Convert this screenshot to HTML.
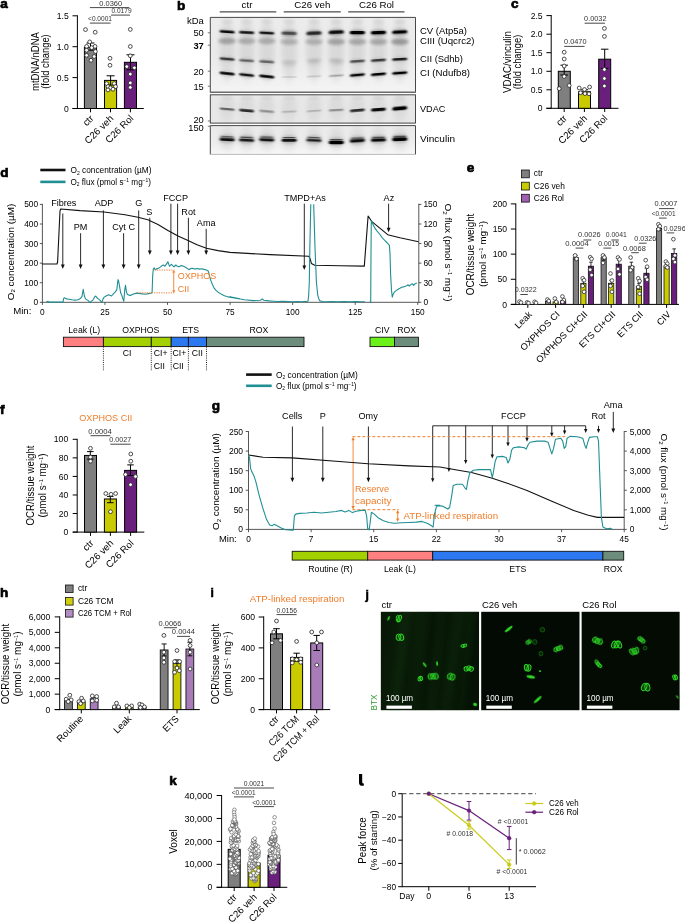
<!DOCTYPE html>
<html><head><meta charset="utf-8"><title>Figure</title>
<style>
html,body{margin:0;padding:0;background:#fff;overflow:hidden;}
svg{display:block;font-family:"Liberation Sans",sans-serif;will-change:transform;}
</style></head><body>
<svg width="685" height="922" viewBox="0 0 685 922">
<defs>
<filter id="bl1" x="-20%" y="-100%" width="140%" height="300%"><feGaussianBlur stdDeviation="1.1 0.6"/></filter>
<filter id="bl2" x="-20%" y="-100%" width="140%" height="300%"><feGaussianBlur stdDeviation="1.8 1.6"/></filter>
<filter id="bl3" x="-20%" y="-100%" width="140%" height="300%"><feGaussianBlur stdDeviation="2.5 4"/></filter>
<linearGradient id="bg1" x1="0" y1="0" x2="0" y2="1"><stop offset="0" stop-color="#ececec"/><stop offset="0.5" stop-color="#e9e9e9"/><stop offset="1" stop-color="#f4f4f4"/></linearGradient>
<clipPath id="cb1"><rect x="210.3" y="17.4" width="205.2" height="74.8"/></clipPath>
<clipPath id="cb2"><rect x="210.3" y="94.8" width="205.2" height="28.8"/></clipPath>
<clipPath id="cb3"><rect x="210.3" y="125.6" width="205.2" height="28.8"/></clipPath>
<linearGradient id="bg3" x1="0" y1="0" x2="0" y2="1"><stop offset="0" stop-color="#eaeaea"/><stop offset="0.6" stop-color="#ededed"/><stop offset="1" stop-color="#f7f7f7"/></linearGradient>
<filter id="gb" x="-30%" y="-30%" width="160%" height="160%"><feGaussianBlur stdDeviation="0.55"/></filter>
<filter id="gb2" x="-30%" y="-30%" width="160%" height="160%"><feGaussianBlur stdDeviation="3"/></filter>
<linearGradient id="jg1" x1="0" y1="0" x2="1" y2="0.2"><stop offset="0" stop-color="#071606"/><stop offset="0.3" stop-color="#0a1d08"/><stop offset="0.55" stop-color="#061405"/><stop offset="0.8" stop-color="#091b07"/><stop offset="1" stop-color="#051204"/></linearGradient>
<clipPath id="jc0"><rect x="380.6" y="611.6" width="98.6" height="98.8"/></clipPath>
<clipPath id="jc1"><rect x="481.1" y="611.6" width="98.6" height="98.8"/></clipPath>
<clipPath id="jc2"><rect x="581.4" y="611.6" width="98.4" height="98.8"/></clipPath>
</defs>
<rect x="0" y="0" width="685" height="922" fill="#fff"/>
<text x="0.2" y="7.7" font-size="13.6" font-weight="bold" fill="#000" stroke="#000" stroke-width="0.7" stroke-linejoin="round">a</text>
<line x1="77.4" y1="15.3" x2="77.4" y2="109" stroke="#000" stroke-width="1"/>
<line x1="72.5" y1="108.5" x2="143.8" y2="108.5" stroke="#000" stroke-width="1"/>
<line x1="72.5" y1="15.8" x2="77.4" y2="15.8" stroke="#000" stroke-width="1"/>
<text x="68.7" y="18.900000000000002" font-size="8.6" text-anchor="end">1.5</text>
<line x1="72.5" y1="46.7" x2="77.4" y2="46.7" stroke="#000" stroke-width="1"/>
<text x="68.7" y="49.800000000000004" font-size="8.6" text-anchor="end">1.0</text>
<line x1="72.5" y1="77.6" x2="77.4" y2="77.6" stroke="#000" stroke-width="1"/>
<text x="68.7" y="80.69999999999999" font-size="8.6" text-anchor="end">0.5</text>
<line x1="72.5" y1="108.5" x2="77.4" y2="108.5" stroke="#000" stroke-width="1"/>
<text x="68.7" y="111.6" font-size="8.6" text-anchor="end">0</text>
<line x1="90.5" y1="108.5" x2="90.5" y2="112.3" stroke="#000" stroke-width="1"/>
<line x1="110.5" y1="108.5" x2="110.5" y2="112.3" stroke="#000" stroke-width="1"/>
<line x1="130.4" y1="108.5" x2="130.4" y2="112.3" stroke="#000" stroke-width="1"/>
<rect x="84.4" y="47.3" width="12.1" height="61.2" fill="#7f7f7f" stroke="#000" stroke-width="1"/>
<rect x="104.5" y="80.4" width="12.1" height="28.1" fill="#caca00" stroke="#000" stroke-width="1"/>
<rect x="124.4" y="62.3" width="12.1" height="46.2" fill="#6a1f7c" stroke="#000" stroke-width="1"/>
<line x1="90.5" y1="43" x2="90.5" y2="50.2" stroke="#000" stroke-width="1"/>
<line x1="86.5" y1="43" x2="94.5" y2="43" stroke="#000" stroke-width="1"/>
<line x1="86.5" y1="50.2" x2="94.5" y2="50.2" stroke="#000" stroke-width="1"/>
<line x1="110.6" y1="75.8" x2="110.6" y2="85" stroke="#000" stroke-width="1"/>
<line x1="106.6" y1="75.8" x2="114.6" y2="75.8" stroke="#000" stroke-width="1"/>
<line x1="106.6" y1="85" x2="114.6" y2="85" stroke="#000" stroke-width="1"/>
<line x1="130.5" y1="54.8" x2="130.5" y2="69.8" stroke="#000" stroke-width="1"/>
<line x1="126.5" y1="54.8" x2="134.5" y2="54.8" stroke="#000" stroke-width="1"/>
<line x1="126.5" y1="69.8" x2="134.5" y2="69.8" stroke="#000" stroke-width="1"/>
<circle cx="85.5" cy="29.6" r="1.9" fill="#fff" stroke="#222" stroke-width="0.8"/>
<circle cx="95.2" cy="32.2" r="1.9" fill="#fff" stroke="#222" stroke-width="0.8"/>
<circle cx="89.7" cy="41.9" r="1.9" fill="#fff" stroke="#222" stroke-width="0.8"/>
<circle cx="86.6" cy="46.4" r="1.9" fill="#fff" stroke="#222" stroke-width="0.8"/>
<circle cx="95.0" cy="46.4" r="1.9" fill="#fff" stroke="#222" stroke-width="0.8"/>
<circle cx="91.7" cy="47.7" r="1.9" fill="#fff" stroke="#222" stroke-width="0.8"/>
<circle cx="86.6" cy="50.2" r="1.9" fill="#fff" stroke="#222" stroke-width="0.8"/>
<circle cx="95.4" cy="51.5" r="1.9" fill="#fff" stroke="#222" stroke-width="0.8"/>
<circle cx="86.6" cy="55.3" r="1.9" fill="#fff" stroke="#222" stroke-width="0.8"/>
<circle cx="94.2" cy="56.5" r="1.9" fill="#fff" stroke="#222" stroke-width="0.8"/>
<circle cx="91.0" cy="60.3" r="1.9" fill="#fff" stroke="#222" stroke-width="0.8"/>
<circle cx="110.0" cy="58.3" r="1.9" fill="#fff" stroke="#222" stroke-width="0.8"/>
<circle cx="110.0" cy="65.3" r="1.9" fill="#fff" stroke="#222" stroke-width="0.8"/>
<circle cx="106.7" cy="83.6" r="1.9" fill="#fff" stroke="#222" stroke-width="0.8"/>
<circle cx="114.3" cy="83.6" r="1.9" fill="#fff" stroke="#222" stroke-width="0.8"/>
<circle cx="108.0" cy="86.6" r="1.9" fill="#fff" stroke="#222" stroke-width="0.8"/>
<circle cx="115.5" cy="86.6" r="1.9" fill="#fff" stroke="#222" stroke-width="0.8"/>
<circle cx="110.5" cy="87.9" r="1.9" fill="#fff" stroke="#222" stroke-width="0.8"/>
<circle cx="113.0" cy="89.2" r="1.9" fill="#fff" stroke="#222" stroke-width="0.8"/>
<circle cx="108.0" cy="89.9" r="1.9" fill="#fff" stroke="#222" stroke-width="0.8"/>
<circle cx="130.3" cy="29.4" r="1.9" fill="#fff" stroke="#222" stroke-width="0.8"/>
<circle cx="130.3" cy="46.5" r="1.9" fill="#fff" stroke="#222" stroke-width="0.8"/>
<circle cx="130.3" cy="55.8" r="1.9" fill="#fff" stroke="#222" stroke-width="0.8"/>
<circle cx="126.8" cy="66.6" r="1.9" fill="#fff" stroke="#222" stroke-width="0.8"/>
<circle cx="134.4" cy="67.8" r="1.9" fill="#fff" stroke="#222" stroke-width="0.8"/>
<circle cx="130.3" cy="74.1" r="1.9" fill="#fff" stroke="#222" stroke-width="0.8"/>
<circle cx="130.3" cy="82.9" r="1.9" fill="#fff" stroke="#222" stroke-width="0.8"/>
<circle cx="130.3" cy="87.4" r="1.9" fill="#fff" stroke="#222" stroke-width="0.8"/>
<line x1="89.9" y1="7.6" x2="129.3" y2="7.6" stroke="#333" stroke-width="0.9"/>
<text x="110.7" y="5.6" font-size="6.6" text-anchor="middle" textLength="22.8" lengthAdjust="spacingAndGlyphs" fill="#333">0.0360</text>
<line x1="111" y1="15.1" x2="130" y2="15.1" stroke="#333" stroke-width="0.9"/>
<text x="121.5" y="13.1" font-size="6.6" text-anchor="middle" textLength="20.1" lengthAdjust="spacingAndGlyphs" fill="#333">0.0179</text>
<line x1="89.9" y1="23.1" x2="110.5" y2="23.1" stroke="#333" stroke-width="0.9"/>
<text x="100" y="21.1" font-size="6.6" text-anchor="middle" textLength="23.9" lengthAdjust="spacingAndGlyphs" fill="#333">&lt;0.0001</text>
<text x="38.8" y="61.5" font-size="10.3" text-anchor="middle" transform="rotate(-90 38.8 61.5)" textLength="59" lengthAdjust="spacingAndGlyphs">mtDNA/nDNA</text>
<text x="49.2" y="61.5" font-size="10.3" text-anchor="middle" transform="rotate(-90 49.2 61.5)" textLength="54.5" lengthAdjust="spacingAndGlyphs">(fold change)</text>
<text x="94.3" y="119" font-size="9.7" text-anchor="end" transform="rotate(-45 94.3 119)">ctr</text>
<text x="114.1" y="119" font-size="9.7" text-anchor="end" transform="rotate(-45 114.1 119)">C26 veh</text>
<text x="134.0" y="119" font-size="9.7" text-anchor="end" transform="rotate(-45 134.0 119)">C26 Rol</text>
<text x="511" y="8.1" font-size="13.6" font-weight="bold" fill="#000" stroke="#000" stroke-width="0.7" stroke-linejoin="round">c</text>
<line x1="551.2" y1="15" x2="551.2" y2="109" stroke="#000" stroke-width="1"/>
<line x1="546.4000000000001" y1="108.3" x2="618.5" y2="108.3" stroke="#000" stroke-width="1"/>
<line x1="546.4000000000001" y1="15.6" x2="551.2" y2="15.6" stroke="#000" stroke-width="1"/>
<text x="542.6" y="18.7" font-size="8.6" text-anchor="end">2.5</text>
<line x1="546.4000000000001" y1="34.2" x2="551.2" y2="34.2" stroke="#000" stroke-width="1"/>
<text x="542.6" y="37.300000000000004" font-size="8.6" text-anchor="end">2.0</text>
<line x1="546.4000000000001" y1="52.7" x2="551.2" y2="52.7" stroke="#000" stroke-width="1"/>
<text x="542.6" y="55.800000000000004" font-size="8.6" text-anchor="end">1.5</text>
<line x1="546.4000000000001" y1="71.3" x2="551.2" y2="71.3" stroke="#000" stroke-width="1"/>
<text x="542.6" y="74.39999999999999" font-size="8.6" text-anchor="end">1.0</text>
<line x1="546.4000000000001" y1="89.8" x2="551.2" y2="89.8" stroke="#000" stroke-width="1"/>
<text x="542.6" y="92.89999999999999" font-size="8.6" text-anchor="end">0.5</text>
<line x1="546.4000000000001" y1="108.3" x2="551.2" y2="108.3" stroke="#000" stroke-width="1"/>
<text x="542.6" y="111.39999999999999" font-size="8.6" text-anchor="end">0</text>
<line x1="564.2" y1="108.3" x2="564.2" y2="112" stroke="#000" stroke-width="1"/>
<line x1="584.4" y1="108.3" x2="584.4" y2="112" stroke="#000" stroke-width="1"/>
<line x1="604.7" y1="108.3" x2="604.7" y2="112" stroke="#000" stroke-width="1"/>
<rect x="558.3" y="71.3" width="12" height="37" fill="#7f7f7f" stroke="#000" stroke-width="1"/>
<rect x="578.5" y="91.8" width="12" height="16.5" fill="#caca00" stroke="#000" stroke-width="1"/>
<rect x="598.7" y="59.2" width="12" height="49.1" fill="#6a1f7c" stroke="#000" stroke-width="1"/>
<line x1="564.2" y1="65.2" x2="564.2" y2="75" stroke="#000" stroke-width="1"/>
<line x1="560.45" y1="65.2" x2="567.95" y2="65.2" stroke="#000" stroke-width="1"/>
<line x1="560.45" y1="75" x2="567.95" y2="75" stroke="#000" stroke-width="1"/>
<line x1="584.5" y1="89.8" x2="584.5" y2="93.5" stroke="#000" stroke-width="1"/>
<line x1="580.75" y1="89.8" x2="588.25" y2="89.8" stroke="#000" stroke-width="1"/>
<line x1="580.75" y1="93.5" x2="588.25" y2="93.5" stroke="#000" stroke-width="1"/>
<line x1="604.7" y1="49.2" x2="604.7" y2="68.4" stroke="#000" stroke-width="1"/>
<line x1="600.95" y1="49.2" x2="608.45" y2="49.2" stroke="#000" stroke-width="1"/>
<line x1="600.95" y1="68.4" x2="608.45" y2="68.4" stroke="#000" stroke-width="1"/>
<circle cx="564.2" cy="52.2" r="1.9" fill="#fff" stroke="#222" stroke-width="0.8"/>
<circle cx="564.2" cy="59.0" r="1.9" fill="#fff" stroke="#222" stroke-width="0.8"/>
<circle cx="564.2" cy="66.0" r="1.9" fill="#fff" stroke="#222" stroke-width="0.8"/>
<circle cx="564.2" cy="76.5" r="1.9" fill="#fff" stroke="#222" stroke-width="0.8"/>
<circle cx="559.2" cy="88.6" r="1.9" fill="#fff" stroke="#222" stroke-width="0.8"/>
<circle cx="569.2" cy="85.5" r="1.9" fill="#fff" stroke="#222" stroke-width="0.8"/>
<circle cx="579.2" cy="88.0" r="1.9" fill="#fff" stroke="#222" stroke-width="0.8"/>
<circle cx="584.5" cy="89.5" r="1.9" fill="#fff" stroke="#222" stroke-width="0.8"/>
<circle cx="589.6" cy="87.0" r="1.9" fill="#fff" stroke="#222" stroke-width="0.8"/>
<circle cx="580.5" cy="92.8" r="1.9" fill="#fff" stroke="#222" stroke-width="0.8"/>
<circle cx="585.0" cy="93.6" r="1.9" fill="#fff" stroke="#222" stroke-width="0.8"/>
<circle cx="589.0" cy="93.8" r="1.9" fill="#fff" stroke="#222" stroke-width="0.8"/>
<circle cx="604.4" cy="28.4" r="1.9" fill="#fff" stroke="#222" stroke-width="0.8"/>
<circle cx="604.4" cy="36.4" r="1.9" fill="#fff" stroke="#222" stroke-width="0.8"/>
<circle cx="604.4" cy="69.5" r="1.9" fill="#fff" stroke="#222" stroke-width="0.8"/>
<circle cx="604.4" cy="78.5" r="1.9" fill="#fff" stroke="#222" stroke-width="0.8"/>
<circle cx="604.4" cy="86.0" r="1.9" fill="#fff" stroke="#222" stroke-width="0.8"/>
<line x1="564.2" y1="46.4" x2="584.6" y2="46.4" stroke="#333" stroke-width="0.9"/>
<text x="575.3" y="44.4" font-size="6.6" text-anchor="middle" textLength="22.5" lengthAdjust="spacingAndGlyphs" fill="#333">0.0470</text>
<line x1="584.6" y1="23.2" x2="605" y2="23.2" stroke="#333" stroke-width="0.9"/>
<text x="595.3" y="21.2" font-size="6.6" text-anchor="middle" textLength="22.4" lengthAdjust="spacingAndGlyphs" fill="#333">0.0032</text>
<text x="510.8" y="62" font-size="10.3" text-anchor="middle" transform="rotate(-90 510.8 62)" textLength="62" lengthAdjust="spacingAndGlyphs">VDAC/vinculin</text>
<text x="520.8" y="62" font-size="10.3" text-anchor="middle" transform="rotate(-90 520.8 62)" textLength="54.5" lengthAdjust="spacingAndGlyphs">(fold change)</text>
<text x="567.5999999999999" y="119" font-size="9.7" text-anchor="end" transform="rotate(-45 567.5999999999999 119)">ctr</text>
<text x="587.8" y="119" font-size="9.7" text-anchor="end" transform="rotate(-45 587.8 119)">C26 veh</text>
<text x="608.0999999999999" y="119" font-size="9.7" text-anchor="end" transform="rotate(-45 608.0999999999999 119)">C26 Rol</text>
<text x="177" y="10.2" font-size="13.6" font-weight="bold" fill="#000" stroke="#000" stroke-width="0.7" stroke-linejoin="round">b</text>
<line x1="219.7" y1="11.9" x2="276.3" y2="11.9" stroke="#222" stroke-width="1"/>
<text x="247" y="8.2" font-size="9.7" text-anchor="middle">ctr</text>
<line x1="283.7" y1="11.9" x2="340.8" y2="11.9" stroke="#222" stroke-width="1"/>
<text x="312.3" y="8.2" font-size="9.7" text-anchor="middle">C26 veh</text>
<line x1="348.2" y1="11.9" x2="404.5" y2="11.9" stroke="#222" stroke-width="1"/>
<text x="376.5" y="8.2" font-size="9.7" text-anchor="middle">C26 Rol</text>
<text x="203.8" y="23.8" font-size="9.5" text-anchor="end">kDa</text>
<text x="203.8" y="36.099999999999994" font-size="9.3" text-anchor="end">50</text>
<line x1="207.8" y1="32.8" x2="210" y2="32.8" stroke="#555" stroke-width="0.8"/>
<text x="203.8" y="48.5" font-size="9.3" text-anchor="end" font-weight="bold">37</text>
<line x1="207.8" y1="45.2" x2="210" y2="45.2" stroke="#555" stroke-width="0.8"/>
<text x="203.8" y="74.5" font-size="9.3" text-anchor="end">20</text>
<line x1="207.8" y1="71.2" x2="210" y2="71.2" stroke="#555" stroke-width="0.8"/>
<text x="203.8" y="89.5" font-size="9.3" text-anchor="end">15</text>
<line x1="207.8" y1="86.2" x2="210" y2="86.2" stroke="#555" stroke-width="0.8"/>
<text x="203.8" y="123.4" font-size="9.3" text-anchor="end">20</text>
<line x1="207.8" y1="121" x2="210" y2="121" stroke="#555" stroke-width="0.8"/>
<text x="203.8" y="130.6" font-size="9.3" text-anchor="end">150</text>
<line x1="207.8" y1="126.2" x2="210" y2="126.2" stroke="#555" stroke-width="0.8"/>
<text x="420" y="34.4" font-size="9.7" textLength="47" lengthAdjust="spacingAndGlyphs">CV (Atp5a)</text>
<text x="420" y="43.5" font-size="9.7" textLength="54.5" lengthAdjust="spacingAndGlyphs">CIII (Uqcrc2)</text>
<text x="420" y="62.2" font-size="9.7" textLength="43" lengthAdjust="spacingAndGlyphs">CII (Sdhb)</text>
<text x="420" y="76" font-size="9.7" textLength="50" lengthAdjust="spacingAndGlyphs">CI (Ndufb8)</text>
<text x="420" y="111.9" font-size="9.7" textLength="25.5" lengthAdjust="spacingAndGlyphs">VDAC</text>
<text x="420" y="142.3" font-size="9.7" textLength="35" lengthAdjust="spacingAndGlyphs">Vinculin</text>
<g clip-path="url(#cb1)">
<rect x="210.3" y="17.4" width="205.2" height="74.8" fill="url(#bg1)"/>
<ellipse cx="227.1" cy="50.0" rx="7.5" ry="31.00" fill="#000" opacity="0.07" filter="url(#bl3)" transform="rotate(0 227.1 50)"/>
<ellipse cx="227.1" cy="21.5" rx="6.5" ry="2.00" fill="#000" opacity="0.05" filter="url(#bl2)" transform="rotate(0 227.1 21.5)"/>
<ellipse cx="246.7" cy="50.0" rx="7.5" ry="31.00" fill="#000" opacity="0.07" filter="url(#bl3)" transform="rotate(0 246.7 50)"/>
<ellipse cx="246.7" cy="21.5" rx="6.5" ry="2.00" fill="#000" opacity="0.05" filter="url(#bl2)" transform="rotate(0 246.7 21.5)"/>
<ellipse cx="266.8" cy="50.0" rx="7.5" ry="31.00" fill="#000" opacity="0.07" filter="url(#bl3)" transform="rotate(0 266.8 50)"/>
<ellipse cx="266.8" cy="21.5" rx="6.5" ry="2.00" fill="#000" opacity="0.05" filter="url(#bl2)" transform="rotate(0 266.8 21.5)"/>
<ellipse cx="289.2" cy="50.0" rx="7.5" ry="31.00" fill="#000" opacity="0.07" filter="url(#bl3)" transform="rotate(0 289.2 50)"/>
<ellipse cx="289.2" cy="21.5" rx="6.5" ry="2.00" fill="#000" opacity="0.05" filter="url(#bl2)" transform="rotate(0 289.2 21.5)"/>
<ellipse cx="314.0" cy="50.0" rx="7.5" ry="31.00" fill="#000" opacity="0.07" filter="url(#bl3)" transform="rotate(0 314 50)"/>
<ellipse cx="314.0" cy="21.5" rx="6.5" ry="2.00" fill="#000" opacity="0.05" filter="url(#bl2)" transform="rotate(0 314 21.5)"/>
<ellipse cx="336.3" cy="50.0" rx="7.5" ry="31.00" fill="#000" opacity="0.07" filter="url(#bl3)" transform="rotate(0 336.3 50)"/>
<ellipse cx="336.3" cy="21.5" rx="6.5" ry="2.00" fill="#000" opacity="0.05" filter="url(#bl2)" transform="rotate(0 336.3 21.5)"/>
<ellipse cx="357.4" cy="50.0" rx="7.5" ry="31.00" fill="#000" opacity="0.07" filter="url(#bl3)" transform="rotate(0 357.4 50)"/>
<ellipse cx="357.4" cy="21.5" rx="6.5" ry="2.00" fill="#000" opacity="0.05" filter="url(#bl2)" transform="rotate(0 357.4 21.5)"/>
<ellipse cx="378.5" cy="50.0" rx="7.5" ry="31.00" fill="#000" opacity="0.07" filter="url(#bl3)" transform="rotate(0 378.5 50)"/>
<ellipse cx="378.5" cy="21.5" rx="6.5" ry="2.00" fill="#000" opacity="0.05" filter="url(#bl2)" transform="rotate(0 378.5 21.5)"/>
<ellipse cx="399.8" cy="50.0" rx="7.5" ry="31.00" fill="#000" opacity="0.07" filter="url(#bl3)" transform="rotate(0 399.8 50)"/>
<ellipse cx="399.8" cy="21.5" rx="6.5" ry="2.00" fill="#000" opacity="0.05" filter="url(#bl2)" transform="rotate(0 399.8 21.5)"/>
<rect x="219.8" y="30.61" width="14.7" height="2.38" rx="1.19" fill="#000" opacity="0.95" filter="url(#bl1)" transform="rotate(4 227.1 31.8)"/>
<ellipse cx="227.1" cy="32.0" rx="8.0" ry="2.30" fill="#000" opacity="0.16" filter="url(#bl2)" transform="rotate(4 227.1 32.0)"/>
<rect x="239.3" y="31.31" width="14.7" height="2.38" rx="1.19" fill="#000" opacity="0.9" filter="url(#bl1)" transform="rotate(3 246.7 32.5)"/>
<ellipse cx="246.7" cy="32.7" rx="8.0" ry="2.30" fill="#000" opacity="0.16" filter="url(#bl2)" transform="rotate(3 246.7 32.7)"/>
<rect x="259.4" y="31.81" width="14.7" height="2.38" rx="1.19" fill="#000" opacity="0.88" filter="url(#bl1)" transform="rotate(3 266.8 33)"/>
<ellipse cx="266.8" cy="33.2" rx="8.0" ry="2.30" fill="#000" opacity="0.16" filter="url(#bl2)" transform="rotate(3 266.8 33.2)"/>
<rect x="281.8" y="31.66" width="14.7" height="3.08" rx="1.54" fill="#000" opacity="0.5" filter="url(#bl1)" transform="rotate(2 289.2 33.2)"/>
<ellipse cx="289.2" cy="33.4" rx="8.0" ry="2.30" fill="#000" opacity="0.16" filter="url(#bl2)" transform="rotate(2 289.2 33.400000000000006)"/>
<ellipse cx="289.2" cy="33.5" rx="8.0" ry="3.00" fill="#000" opacity="0.22" filter="url(#bl2)" transform="rotate(0 289.2 33.5)"/>
<rect x="306.6" y="31.59" width="14.7" height="3.22" rx="1.61" fill="#000" opacity="0.72" filter="url(#bl1)" transform="rotate(-3 314 33.2)"/>
<ellipse cx="314.0" cy="33.4" rx="8.0" ry="2.30" fill="#000" opacity="0.16" filter="url(#bl2)" transform="rotate(-3 314 33.400000000000006)"/>
<ellipse cx="314.0" cy="33.5" rx="8.0" ry="3.00" fill="#000" opacity="0.22" filter="url(#bl2)" transform="rotate(0 314 33.5)"/>
<rect x="328.9" y="30.59" width="14.7" height="3.22" rx="1.61" fill="#000" opacity="0.9" filter="url(#bl1)" transform="rotate(-3 336.3 32.2)"/>
<ellipse cx="336.3" cy="32.4" rx="8.0" ry="2.30" fill="#000" opacity="0.16" filter="url(#bl2)" transform="rotate(-3 336.3 32.400000000000006)"/>
<ellipse cx="336.3" cy="32.5" rx="8.0" ry="3.00" fill="#000" opacity="0.22" filter="url(#bl2)" transform="rotate(0 336.3 32.5)"/>
<rect x="350.0" y="31.06" width="14.7" height="3.08" rx="1.54" fill="#000" opacity="1" filter="url(#bl1)" transform="rotate(0 357.4 32.6)"/>
<ellipse cx="357.4" cy="32.8" rx="8.0" ry="2.30" fill="#000" opacity="0.16" filter="url(#bl2)" transform="rotate(0 357.4 32.800000000000004)"/>
<ellipse cx="357.4" cy="32.9" rx="8.0" ry="3.00" fill="#000" opacity="0.22" filter="url(#bl2)" transform="rotate(0 357.4 32.9)"/>
<rect x="371.1" y="31.06" width="14.7" height="3.08" rx="1.54" fill="#000" opacity="1" filter="url(#bl1)" transform="rotate(-2 378.5 32.6)"/>
<ellipse cx="378.5" cy="32.8" rx="8.0" ry="2.30" fill="#000" opacity="0.16" filter="url(#bl2)" transform="rotate(-2 378.5 32.800000000000004)"/>
<ellipse cx="378.5" cy="32.9" rx="8.0" ry="3.00" fill="#000" opacity="0.22" filter="url(#bl2)" transform="rotate(0 378.5 32.9)"/>
<rect x="392.4" y="30.39" width="14.7" height="3.22" rx="1.61" fill="#000" opacity="1" filter="url(#bl1)" transform="rotate(-3 399.8 32)"/>
<ellipse cx="399.8" cy="32.2" rx="8.0" ry="2.30" fill="#000" opacity="0.16" filter="url(#bl2)" transform="rotate(-3 399.8 32.2)"/>
<ellipse cx="399.8" cy="32.3" rx="8.0" ry="3.00" fill="#000" opacity="0.22" filter="url(#bl2)" transform="rotate(0 399.8 32.3)"/>
<ellipse cx="227.1" cy="41.0" rx="9.0" ry="3.25" fill="#000" opacity="0.26" filter="url(#bl2)" transform="rotate(0 227.1 41.0)"/>
<ellipse cx="246.7" cy="41.0" rx="9.0" ry="3.25" fill="#000" opacity="0.22" filter="url(#bl2)" transform="rotate(0 246.7 41.0)"/>
<ellipse cx="266.8" cy="41.0" rx="9.0" ry="3.25" fill="#000" opacity="0.22" filter="url(#bl2)" transform="rotate(0 266.8 41.0)"/>
<ellipse cx="289.2" cy="41.8" rx="9.0" ry="3.25" fill="#000" opacity="0.2" filter="url(#bl2)" transform="rotate(0 289.2 41.800000000000004)"/>
<ellipse cx="314.0" cy="41.8" rx="9.0" ry="3.25" fill="#000" opacity="0.2" filter="url(#bl2)" transform="rotate(0 314 41.800000000000004)"/>
<ellipse cx="336.3" cy="41.8" rx="9.0" ry="3.25" fill="#000" opacity="0.26" filter="url(#bl2)" transform="rotate(0 336.3 41.800000000000004)"/>
<ellipse cx="357.4" cy="41.8" rx="9.0" ry="3.25" fill="#000" opacity="0.24" filter="url(#bl2)" transform="rotate(0 357.4 41.800000000000004)"/>
<ellipse cx="378.5" cy="41.8" rx="9.0" ry="3.25" fill="#000" opacity="0.24" filter="url(#bl2)" transform="rotate(0 378.5 41.800000000000004)"/>
<ellipse cx="399.8" cy="41.8" rx="9.0" ry="3.25" fill="#000" opacity="0.3" filter="url(#bl2)" transform="rotate(0 399.8 41.800000000000004)"/>
<rect x="219.8" y="57.81" width="14.7" height="2.38" rx="1.19" fill="#000" opacity="0.72" filter="url(#bl1)" transform="rotate(5 227.1 59)"/>
<ellipse cx="227.1" cy="59.0" rx="7.5" ry="2.50" fill="#000" opacity="0.12" filter="url(#bl2)" transform="rotate(0 227.1 59)"/>
<rect x="239.3" y="59.41" width="14.7" height="2.38" rx="1.19" fill="#000" opacity="0.5" filter="url(#bl1)" transform="rotate(4 246.7 60.6)"/>
<ellipse cx="246.7" cy="60.6" rx="7.5" ry="2.50" fill="#000" opacity="0.12" filter="url(#bl2)" transform="rotate(0 246.7 60.6)"/>
<rect x="259.4" y="60.61" width="14.7" height="2.38" rx="1.19" fill="#000" opacity="0.48" filter="url(#bl1)" transform="rotate(4 266.8 61.8)"/>
<ellipse cx="266.8" cy="61.8" rx="7.5" ry="2.50" fill="#000" opacity="0.12" filter="url(#bl2)" transform="rotate(0 266.8 61.8)"/>
<ellipse cx="289.2" cy="62.3" rx="7.5" ry="1.70" fill="#000" opacity="0.15000000000000002" filter="url(#bl2)" transform="rotate(0 289.2 62.3)"/>
<ellipse cx="289.2" cy="65.7" rx="7.0" ry="1.20" fill="#000" opacity="0.07" filter="url(#bl2)" transform="rotate(0 289.2 65.7)"/>
<ellipse cx="314.0" cy="60.6" rx="7.5" ry="1.70" fill="#000" opacity="0.19" filter="url(#bl2)" transform="rotate(-3 314 60.6)"/>
<ellipse cx="314.0" cy="64.0" rx="7.0" ry="1.20" fill="#000" opacity="0.07" filter="url(#bl2)" transform="rotate(0 314 64.0)"/>
<ellipse cx="336.3" cy="60.8" rx="7.5" ry="1.70" fill="#000" opacity="0.19" filter="url(#bl2)" transform="rotate(3 336.3 60.8)"/>
<ellipse cx="336.3" cy="64.2" rx="7.0" ry="1.20" fill="#000" opacity="0.07" filter="url(#bl2)" transform="rotate(0 336.3 64.2)"/>
<rect x="350.0" y="60.01" width="14.7" height="2.38" rx="1.19" fill="#000" opacity="0.58" filter="url(#bl1)" transform="rotate(-4 357.4 61.2)"/>
<ellipse cx="357.4" cy="61.2" rx="7.5" ry="2.50" fill="#000" opacity="0.12" filter="url(#bl2)" transform="rotate(0 357.4 61.2)"/>
<rect x="371.1" y="59.01" width="14.7" height="2.38" rx="1.19" fill="#000" opacity="0.7" filter="url(#bl1)" transform="rotate(-4 378.5 60.2)"/>
<ellipse cx="378.5" cy="60.2" rx="7.5" ry="2.50" fill="#000" opacity="0.12" filter="url(#bl2)" transform="rotate(0 378.5 60.2)"/>
<rect x="392.4" y="58.01" width="14.7" height="2.38" rx="1.19" fill="#000" opacity="0.85" filter="url(#bl1)" transform="rotate(-3 399.8 59.2)"/>
<ellipse cx="399.8" cy="59.2" rx="7.5" ry="2.50" fill="#000" opacity="0.12" filter="url(#bl2)" transform="rotate(0 399.8 59.2)"/>
<rect x="219.8" y="72.14" width="14.7" height="2.52" rx="1.26" fill="#000" opacity="1" filter="url(#bl1)" transform="rotate(6 227.1 73.4)"/>
<ellipse cx="227.1" cy="73.6" rx="8.0" ry="2.30" fill="#000" opacity="0.16" filter="url(#bl2)" transform="rotate(6 227.1 73.60000000000001)"/>
<rect x="239.3" y="73.74" width="14.7" height="2.52" rx="1.26" fill="#000" opacity="0.9" filter="url(#bl1)" transform="rotate(6 246.7 75)"/>
<ellipse cx="246.7" cy="75.2" rx="8.0" ry="2.30" fill="#000" opacity="0.16" filter="url(#bl2)" transform="rotate(6 246.7 75.2)"/>
<rect x="259.4" y="75.34" width="14.7" height="2.52" rx="1.26" fill="#000" opacity="1" filter="url(#bl1)" transform="rotate(6 266.8 76.6)"/>
<ellipse cx="266.8" cy="76.8" rx="8.0" ry="2.30" fill="#000" opacity="0.16" filter="url(#bl2)" transform="rotate(6 266.8 76.8)"/>
<rect x="281.8" y="76.16" width="14.7" height="1.68" rx="0.84" fill="#000" opacity="0.13" filter="url(#bl1)" transform="rotate(0 289.2 77)"/>
<rect x="306.6" y="75.56" width="14.7" height="1.68" rx="0.84" fill="#000" opacity="0.14" filter="url(#bl1)" transform="rotate(-3 314 76.4)"/>
<rect x="328.9" y="74.76" width="14.7" height="1.68" rx="0.84" fill="#000" opacity="0.3" filter="url(#bl1)" transform="rotate(-4 336.3 75.6)"/>
<rect x="350.0" y="73.74" width="14.7" height="2.52" rx="1.26" fill="#000" opacity="0.95" filter="url(#bl1)" transform="rotate(-5 357.4 75)"/>
<ellipse cx="357.4" cy="75.2" rx="8.0" ry="2.30" fill="#000" opacity="0.16" filter="url(#bl2)" transform="rotate(-5 357.4 75.2)"/>
<rect x="371.1" y="72.94" width="14.7" height="2.52" rx="1.26" fill="#000" opacity="1" filter="url(#bl1)" transform="rotate(-5 378.5 74.2)"/>
<ellipse cx="378.5" cy="74.4" rx="8.0" ry="2.30" fill="#000" opacity="0.16" filter="url(#bl2)" transform="rotate(-5 378.5 74.4)"/>
<rect x="392.4" y="71.74" width="14.7" height="2.52" rx="1.26" fill="#000" opacity="1" filter="url(#bl1)" transform="rotate(-4 399.8 73)"/>
<ellipse cx="399.8" cy="73.2" rx="8.0" ry="2.30" fill="#000" opacity="0.16" filter="url(#bl2)" transform="rotate(-4 399.8 73.2)"/>
</g>
<path d="M210.3,92.2 V17.4 H415.5 V92.2" stroke="#333" stroke-width="0.9" fill="none"/>
<line x1="209.9" y1="92.2" x2="415.9" y2="92.2" stroke="#6a6a6a" stroke-width="1.5"/>
<g clip-path="url(#cb2)">
<rect x="210.3" y="94.8" width="205.2" height="28.8" fill="#e7e7e7"/>
<ellipse cx="227.1" cy="108.0" rx="7.5" ry="13.00" fill="#000" opacity="0.05" filter="url(#bl3)" transform="rotate(0 227.1 108)"/>
<ellipse cx="227.1" cy="98.0" rx="6.5" ry="1.50" fill="#000" opacity="0.05" filter="url(#bl2)" transform="rotate(0 227.1 98)"/>
<ellipse cx="246.7" cy="108.0" rx="7.5" ry="13.00" fill="#000" opacity="0.05" filter="url(#bl3)" transform="rotate(0 246.7 108)"/>
<ellipse cx="246.7" cy="98.0" rx="6.5" ry="1.50" fill="#000" opacity="0.05" filter="url(#bl2)" transform="rotate(0 246.7 98)"/>
<ellipse cx="266.8" cy="108.0" rx="7.5" ry="13.00" fill="#000" opacity="0.05" filter="url(#bl3)" transform="rotate(0 266.8 108)"/>
<ellipse cx="266.8" cy="98.0" rx="6.5" ry="1.50" fill="#000" opacity="0.05" filter="url(#bl2)" transform="rotate(0 266.8 98)"/>
<ellipse cx="289.2" cy="108.0" rx="7.5" ry="13.00" fill="#000" opacity="0.05" filter="url(#bl3)" transform="rotate(0 289.2 108)"/>
<ellipse cx="289.2" cy="98.0" rx="6.5" ry="1.50" fill="#000" opacity="0.05" filter="url(#bl2)" transform="rotate(0 289.2 98)"/>
<ellipse cx="314.0" cy="108.0" rx="7.5" ry="13.00" fill="#000" opacity="0.05" filter="url(#bl3)" transform="rotate(0 314 108)"/>
<ellipse cx="314.0" cy="98.0" rx="6.5" ry="1.50" fill="#000" opacity="0.05" filter="url(#bl2)" transform="rotate(0 314 98)"/>
<ellipse cx="336.3" cy="108.0" rx="7.5" ry="13.00" fill="#000" opacity="0.05" filter="url(#bl3)" transform="rotate(0 336.3 108)"/>
<ellipse cx="336.3" cy="98.0" rx="6.5" ry="1.50" fill="#000" opacity="0.05" filter="url(#bl2)" transform="rotate(0 336.3 98)"/>
<ellipse cx="357.4" cy="108.0" rx="7.5" ry="13.00" fill="#000" opacity="0.05" filter="url(#bl3)" transform="rotate(0 357.4 108)"/>
<ellipse cx="357.4" cy="98.0" rx="6.5" ry="1.50" fill="#000" opacity="0.05" filter="url(#bl2)" transform="rotate(0 357.4 98)"/>
<ellipse cx="378.5" cy="108.0" rx="7.5" ry="13.00" fill="#000" opacity="0.05" filter="url(#bl3)" transform="rotate(0 378.5 108)"/>
<ellipse cx="378.5" cy="98.0" rx="6.5" ry="1.50" fill="#000" opacity="0.05" filter="url(#bl2)" transform="rotate(0 378.5 98)"/>
<ellipse cx="399.8" cy="108.0" rx="7.5" ry="13.00" fill="#000" opacity="0.05" filter="url(#bl3)" transform="rotate(0 399.8 108)"/>
<ellipse cx="399.8" cy="98.0" rx="6.5" ry="1.50" fill="#000" opacity="0.05" filter="url(#bl2)" transform="rotate(0 399.8 98)"/>
<rect x="219.8" y="108.08" width="14.7" height="2.24" rx="1.12" fill="#000" opacity="0.55" filter="url(#bl1)" transform="rotate(5 227.1 109.2)"/>
<rect x="239.3" y="109.20" width="14.7" height="2.80" rx="1.40" fill="#000" opacity="0.8" filter="url(#bl1)" transform="rotate(5 246.7 110.6)"/>
<rect x="259.4" y="110.35" width="14.7" height="2.10" rx="1.05" fill="#000" opacity="0.36" filter="url(#bl1)" transform="rotate(5 266.8 111.4)"/>
<rect x="281.8" y="110.69" width="14.7" height="1.82" rx="0.91" fill="#000" opacity="0.2" filter="url(#bl1)" transform="rotate(-3 289.2 111.6)"/>
<rect x="306.6" y="109.89" width="14.7" height="1.82" rx="0.91" fill="#000" opacity="0.2" filter="url(#bl1)" transform="rotate(-4 314 110.8)"/>
<rect x="328.9" y="109.08" width="14.7" height="2.24" rx="1.12" fill="#000" opacity="0.34" filter="url(#bl1)" transform="rotate(-3 336.3 110.2)"/>
<rect x="350.0" y="108.93" width="14.7" height="2.94" rx="1.47" fill="#000" opacity="0.8" filter="url(#bl1)" transform="rotate(-5 357.4 110.4)"/>
<rect x="371.1" y="107.92" width="14.7" height="3.36" rx="1.68" fill="#000" opacity="0.95" filter="url(#bl1)" transform="rotate(-4 378.5 109.6)"/>
<rect x="392.4" y="106.58" width="14.7" height="3.64" rx="1.82" fill="#000" opacity="1" filter="url(#bl1)" transform="rotate(-5 399.8 108.4)"/>
</g>
<rect x="210.3" y="94.8" width="205.2" height="28.3" fill="none" stroke="#333" stroke-width="0.9"/>
<g clip-path="url(#cb3)">
<rect x="210.3" y="125.6" width="205.2" height="29" fill="url(#bg3)"/>
<ellipse cx="227.1" cy="139.0" rx="7.5" ry="11.00" fill="#000" opacity="0.07" filter="url(#bl3)" transform="rotate(0 227.1 139)"/>
<ellipse cx="246.7" cy="139.0" rx="7.5" ry="11.00" fill="#000" opacity="0.07" filter="url(#bl3)" transform="rotate(0 246.7 139)"/>
<ellipse cx="266.8" cy="139.0" rx="7.5" ry="11.00" fill="#000" opacity="0.07" filter="url(#bl3)" transform="rotate(0 266.8 139)"/>
<ellipse cx="289.2" cy="139.0" rx="7.5" ry="11.00" fill="#000" opacity="0.07" filter="url(#bl3)" transform="rotate(0 289.2 139)"/>
<ellipse cx="314.0" cy="139.0" rx="7.5" ry="11.00" fill="#000" opacity="0.07" filter="url(#bl3)" transform="rotate(0 314 139)"/>
<ellipse cx="336.3" cy="139.0" rx="7.5" ry="11.00" fill="#000" opacity="0.07" filter="url(#bl3)" transform="rotate(0 336.3 139)"/>
<ellipse cx="357.4" cy="139.0" rx="7.5" ry="11.00" fill="#000" opacity="0.07" filter="url(#bl3)" transform="rotate(0 357.4 139)"/>
<ellipse cx="378.5" cy="139.0" rx="7.5" ry="11.00" fill="#000" opacity="0.07" filter="url(#bl3)" transform="rotate(0 378.5 139)"/>
<ellipse cx="399.8" cy="139.0" rx="7.5" ry="11.00" fill="#000" opacity="0.07" filter="url(#bl3)" transform="rotate(0 399.8 139)"/>
<rect x="219.8" y="138.13" width="14.7" height="2.94" rx="1.47" fill="#000" opacity="0.92" filter="url(#bl1)" transform="rotate(3 227.1 139.6)"/>
<rect x="220.8" y="136.27" width="12.7" height="1.26" rx="0.63" fill="#000" opacity="0.6" filter="url(#bl1)" transform="rotate(3 227.1 136.9)"/>
<ellipse cx="227.1" cy="139.0" rx="8.5" ry="4.00" fill="#000" opacity="0.2" filter="url(#bl2)" transform="rotate(0 227.1 139.0)"/>
<rect x="239.3" y="138.94" width="14.7" height="2.52" rx="1.26" fill="#000" opacity="0.85" filter="url(#bl1)" transform="rotate(3 246.7 140.2)"/>
<rect x="240.3" y="136.87" width="12.7" height="1.26" rx="0.63" fill="#000" opacity="0.6" filter="url(#bl1)" transform="rotate(3 246.7 137.5)"/>
<ellipse cx="246.7" cy="139.6" rx="8.5" ry="4.00" fill="#000" opacity="0.2" filter="url(#bl2)" transform="rotate(0 246.7 139.6)"/>
<rect x="259.4" y="138.40" width="14.7" height="2.80" rx="1.40" fill="#000" opacity="0.9" filter="url(#bl1)" transform="rotate(3 266.8 139.8)"/>
<rect x="260.4" y="136.47" width="12.7" height="1.26" rx="0.63" fill="#000" opacity="0.6" filter="url(#bl1)" transform="rotate(3 266.8 137.10000000000002)"/>
<ellipse cx="266.8" cy="139.2" rx="8.5" ry="4.00" fill="#000" opacity="0.2" filter="url(#bl2)" transform="rotate(0 266.8 139.20000000000002)"/>
<rect x="281.8" y="139.00" width="14.7" height="2.80" rx="1.40" fill="#000" opacity="0.9" filter="url(#bl1)" transform="rotate(0 289.2 140.4)"/>
<rect x="282.8" y="137.07" width="12.7" height="1.26" rx="0.63" fill="#000" opacity="0.6" filter="url(#bl1)" transform="rotate(0 289.2 137.70000000000002)"/>
<ellipse cx="289.2" cy="139.8" rx="8.5" ry="4.00" fill="#000" opacity="0.2" filter="url(#bl2)" transform="rotate(0 289.2 139.8)"/>
<rect x="306.6" y="139.21" width="14.7" height="2.38" rx="1.19" fill="#000" opacity="0.85" filter="url(#bl1)" transform="rotate(3 314 140.4)"/>
<rect x="307.6" y="137.07" width="12.7" height="1.26" rx="0.63" fill="#000" opacity="0.6" filter="url(#bl1)" transform="rotate(3 314 137.70000000000002)"/>
<ellipse cx="314.0" cy="139.8" rx="8.5" ry="4.00" fill="#000" opacity="0.2" filter="url(#bl2)" transform="rotate(0 314 139.8)"/>
<rect x="328.9" y="140.65" width="14.7" height="3.50" rx="1.75" fill="#000" opacity="1" filter="url(#bl1)" transform="rotate(0 336.3 142.4)"/>
<rect x="329.9" y="139.07" width="12.7" height="1.26" rx="0.63" fill="#000" opacity="0.6" filter="url(#bl1)" transform="rotate(0 336.3 139.70000000000002)"/>
<ellipse cx="336.3" cy="141.8" rx="8.5" ry="4.00" fill="#000" opacity="0.2" filter="url(#bl2)" transform="rotate(0 336.3 141.8)"/>
<rect x="350.0" y="139.33" width="14.7" height="2.94" rx="1.47" fill="#000" opacity="0.92" filter="url(#bl1)" transform="rotate(-4 357.4 140.8)"/>
<rect x="351.0" y="137.47" width="12.7" height="1.26" rx="0.63" fill="#000" opacity="0.6" filter="url(#bl1)" transform="rotate(-4 357.4 138.10000000000002)"/>
<ellipse cx="357.4" cy="140.2" rx="8.5" ry="4.00" fill="#000" opacity="0.2" filter="url(#bl2)" transform="rotate(0 357.4 140.20000000000002)"/>
<rect x="371.1" y="138.39" width="14.7" height="3.22" rx="1.61" fill="#000" opacity="0.95" filter="url(#bl1)" transform="rotate(-2 378.5 140)"/>
<rect x="372.1" y="136.67" width="12.7" height="1.26" rx="0.63" fill="#000" opacity="0.6" filter="url(#bl1)" transform="rotate(-2 378.5 137.3)"/>
<ellipse cx="378.5" cy="139.4" rx="8.5" ry="4.00" fill="#000" opacity="0.2" filter="url(#bl2)" transform="rotate(0 378.5 139.4)"/>
<rect x="392.4" y="137.45" width="14.7" height="3.50" rx="1.75" fill="#000" opacity="1" filter="url(#bl1)" transform="rotate(-2 399.8 139.2)"/>
<rect x="393.4" y="135.87" width="12.7" height="1.26" rx="0.63" fill="#000" opacity="0.6" filter="url(#bl1)" transform="rotate(-2 399.8 136.5)"/>
<ellipse cx="399.8" cy="138.6" rx="8.5" ry="4.00" fill="#000" opacity="0.2" filter="url(#bl2)" transform="rotate(0 399.8 138.6)"/>
</g>
<path d="M210.3,154.4 V125.6 H415.5 V154.4" stroke="#333" stroke-width="0.9" fill="none"/>
<line x1="210.3" y1="154.4" x2="415.5" y2="154.4" stroke="#aaa" stroke-width="0.8"/>
<text x="0.2" y="176.8" font-size="13.6" font-weight="bold" fill="#000" stroke="#000" stroke-width="0.7" stroke-linejoin="round">d</text>
<line x1="40.3" y1="170" x2="65.5" y2="170" stroke="#111" stroke-width="2.6"/>
<line x1="40.3" y1="181.9" x2="65.5" y2="181.9" stroke="#1f8f94" stroke-width="2.6"/>
<text x="70.5" y="172.9" font-size="8.3" textLength="81" lengthAdjust="spacingAndGlyphs">O<tspan font-size="5.0" dy="1.6">2</tspan><tspan dy="-1.6"> concentration (µM)</tspan></text>
<text x="70.5" y="184.8" font-size="8.3" textLength="80.5" lengthAdjust="spacingAndGlyphs">O<tspan font-size="5.0" dy="1.6">2</tspan><tspan dy="-1.6"> flux (pmol s<tspan font-size="5" dy="-3">−1</tspan><tspan dy="3"> mg</tspan><tspan font-size="5" dy="-3">−1</tspan><tspan dy="3">)</tspan></tspan></text>
<line x1="42.4" y1="203.8" x2="42.4" y2="302.7" stroke="#444" stroke-width="0.9"/>
<line x1="42.4" y1="302.3" x2="418.8" y2="302.3" stroke="#444" stroke-width="0.9"/>
<line x1="418.8" y1="203.8" x2="418.8" y2="302.7" stroke="#444" stroke-width="0.9"/>
<line x1="39.8" y1="302.3" x2="42.4" y2="302.3" stroke="#444" stroke-width="0.9"/>
<text x="38.199999999999996" y="305.3" font-size="8.4" text-anchor="end">0</text>
<line x1="39.8" y1="282.73" x2="42.4" y2="282.73" stroke="#444" stroke-width="0.9"/>
<text x="38.199999999999996" y="285.73" font-size="8.4" text-anchor="end">100</text>
<line x1="39.8" y1="263.16" x2="42.4" y2="263.16" stroke="#444" stroke-width="0.9"/>
<text x="38.199999999999996" y="266.16" font-size="8.4" text-anchor="end">200</text>
<line x1="39.8" y1="243.59" x2="42.4" y2="243.59" stroke="#444" stroke-width="0.9"/>
<text x="38.199999999999996" y="246.59" font-size="8.4" text-anchor="end">300</text>
<line x1="39.8" y1="224.02" x2="42.4" y2="224.02" stroke="#444" stroke-width="0.9"/>
<text x="38.199999999999996" y="227.02" font-size="8.4" text-anchor="end">400</text>
<line x1="39.8" y1="204.45" x2="42.4" y2="204.45" stroke="#444" stroke-width="0.9"/>
<text x="38.199999999999996" y="207.45" font-size="8.4" text-anchor="end">500</text>
<line x1="42.4" y1="302.3" x2="42.4" y2="304.90000000000003" stroke="#444" stroke-width="0.9"/>
<text x="42.4" y="314.8" font-size="8.3" text-anchor="middle">0</text>
<line x1="104.9625" y1="302.3" x2="104.9625" y2="304.90000000000003" stroke="#444" stroke-width="0.9"/>
<text x="104.9625" y="314.8" font-size="8.3" text-anchor="middle">25</text>
<line x1="167.525" y1="302.3" x2="167.525" y2="304.90000000000003" stroke="#444" stroke-width="0.9"/>
<text x="167.525" y="314.8" font-size="8.3" text-anchor="middle">50</text>
<line x1="230.0875" y1="302.3" x2="230.0875" y2="304.90000000000003" stroke="#444" stroke-width="0.9"/>
<text x="230.0875" y="314.8" font-size="8.3" text-anchor="middle">75</text>
<line x1="292.65" y1="302.3" x2="292.65" y2="304.90000000000003" stroke="#444" stroke-width="0.9"/>
<text x="292.65" y="314.8" font-size="8.3" text-anchor="middle">100</text>
<line x1="355.2125" y1="302.3" x2="355.2125" y2="304.90000000000003" stroke="#444" stroke-width="0.9"/>
<text x="355.2125" y="314.8" font-size="8.3" text-anchor="middle">125</text>
<line x1="417.775" y1="302.3" x2="417.775" y2="304.90000000000003" stroke="#444" stroke-width="0.9"/>
<text x="417.775" y="314.8" font-size="8.3" text-anchor="middle">150</text>
<text x="13.2" y="313.6" font-size="9.6">Min:</text>
<line x1="418.8" y1="302.3" x2="421.4" y2="302.3" stroke="#444" stroke-width="0.9"/>
<text x="423.4" y="305.3" font-size="8.4">0</text>
<line x1="418.8" y1="282.725" x2="421.4" y2="282.725" stroke="#444" stroke-width="0.9"/>
<text x="423.4" y="285.725" font-size="8.4">30</text>
<line x1="418.8" y1="263.15000000000003" x2="421.4" y2="263.15000000000003" stroke="#444" stroke-width="0.9"/>
<text x="423.4" y="266.15000000000003" font-size="8.4">60</text>
<line x1="418.8" y1="243.57500000000002" x2="421.4" y2="243.57500000000002" stroke="#444" stroke-width="0.9"/>
<text x="423.4" y="246.57500000000002" font-size="8.4">90</text>
<line x1="418.8" y1="224.0" x2="421.4" y2="224.0" stroke="#444" stroke-width="0.9"/>
<text x="423.4" y="227.0" font-size="8.4">120</text>
<line x1="418.8" y1="204.425" x2="421.4" y2="204.425" stroke="#444" stroke-width="0.9"/>
<text x="423.4" y="207.425" font-size="8.4">150</text>
<text x="13.5" y="252" font-size="9.8" text-anchor="middle" transform="rotate(-90 13.5 252)" textLength="96.5" lengthAdjust="spacingAndGlyphs">O<tspan font-size="6" dy="1.6">2</tspan><tspan dy="-1.6"> concentration (µM)</tspan></text>
<text x="445" y="252.5" font-size="9.8" text-anchor="middle" transform="rotate(90 445 252.5)" textLength="98" lengthAdjust="spacingAndGlyphs">O<tspan font-size="6" dy="1.6">2</tspan><tspan dy="-1.6"> flux (pmol s</tspan><tspan font-size="5.5" dy="-3.2">−1</tspan><tspan dy="3.2"> mg</tspan><tspan font-size="5.5" dy="-3.2">−1</tspan><tspan dy="3.2">)</tspan></text>
<text x="63.8" y="206.3" font-size="9.1" text-anchor="middle">Fibres</text>
<line x1="62.8" y1="213.5" x2="62.8" y2="265.1" stroke="#111" stroke-width="0.9"/>
<path d="M60.9,264.6 L64.7,264.6 L62.8,269.1 Z" fill="#111"/>
<text x="80.6" y="229.8" font-size="9.1" text-anchor="middle">PM</text>
<line x1="80.6" y1="233.2" x2="80.6" y2="265.1" stroke="#111" stroke-width="0.9"/>
<path d="M78.69999999999999,264.6 L82.5,264.6 L80.6,269.1 Z" fill="#111"/>
<text x="104.1" y="206.3" font-size="9.1" text-anchor="middle">ADP</text>
<line x1="103.4" y1="210.4" x2="103.4" y2="265.1" stroke="#111" stroke-width="0.9"/>
<path d="M101.5,264.6 L105.30000000000001,264.6 L103.4,269.1 Z" fill="#111"/>
<text x="123.6" y="229.8" font-size="9.1" text-anchor="middle">Cyt C</text>
<line x1="123.6" y1="233.2" x2="123.6" y2="265.1" stroke="#111" stroke-width="0.9"/>
<path d="M121.69999999999999,264.6 L125.5,264.6 L123.6,269.1 Z" fill="#111"/>
<text x="138.7" y="206.3" font-size="9.1" text-anchor="middle">G</text>
<line x1="138.7" y1="210.4" x2="138.7" y2="265.1" stroke="#111" stroke-width="0.9"/>
<path d="M136.79999999999998,264.6 L140.6,264.6 L138.7,269.1 Z" fill="#111"/>
<text x="149.4" y="214.7" font-size="9.1" text-anchor="middle">S</text>
<line x1="149.8" y1="217.8" x2="149.8" y2="251.0" stroke="#111" stroke-width="0.9"/>
<path d="M147.9,250.5 L151.70000000000002,250.5 L149.8,255 Z" fill="#111"/>
<text x="175.6" y="201.3" font-size="9.1" text-anchor="middle">FCCP</text>
<line x1="170.9" y1="203.7" x2="170.9" y2="251.0" stroke="#111" stroke-width="0.9"/>
<path d="M169.0,250.5 L172.8,250.5 L170.9,255 Z" fill="#111"/>
<line x1="177.6" y1="203.7" x2="177.6" y2="251.0" stroke="#111" stroke-width="0.9"/>
<path d="M175.7,250.5 L179.5,250.5 L177.6,255 Z" fill="#111"/>
<text x="188.4" y="214.7" font-size="9.1" text-anchor="middle">Rot</text>
<line x1="188.4" y1="217.8" x2="188.4" y2="251.0" stroke="#111" stroke-width="0.9"/>
<path d="M186.5,250.5 L190.3,250.5 L188.4,255 Z" fill="#111"/>
<text x="206.2" y="225.5" font-size="9.1" text-anchor="middle">Ama</text>
<line x1="206.2" y1="228.8" x2="206.2" y2="251.0" stroke="#111" stroke-width="0.9"/>
<path d="M204.29999999999998,250.5 L208.1,250.5 L206.2,255 Z" fill="#111"/>
<text x="305" y="201.3" font-size="9.1" text-anchor="middle">TMPD+As</text>
<line x1="304.3" y1="203.7" x2="304.3" y2="266.1" stroke="#111" stroke-width="0.9"/>
<path d="M302.40000000000003,265.6 L306.2,265.6 L304.3,270.1 Z" fill="#111"/>
<text x="388.9" y="201.3" font-size="9.1" text-anchor="middle">Az</text>
<line x1="388.6" y1="203.7" x2="388.6" y2="228.2" stroke="#111" stroke-width="0.9"/>
<path d="M386.70000000000005,227.7 L390.5,227.7 L388.6,232.2 Z" fill="#111"/>
<path d="M42.0,264.0 L57.0,264.0 L57.6,262.0 L60.0,211.0 L60.7,209.0 L80.0,210.6 L104.0,212.0 L125.0,214.8 L138.0,217.3 L147.8,219.8 L158.0,224.5 L167.9,230.5 L178.0,236.0 L188.0,240.6 L197.0,244.8 L206.5,248.3 L218.0,250.6 L230.0,252.4 L270.0,254.6 L308.8,256.3 L310.0,258.5 L311.4,263.4 L314.7,265.3 L340.0,265.8 L364.3,266.1 L368.1,216.0 L371.6,221.3 L387.7,234.7 L400.0,237.8 L418.5,241.8" stroke="#111" stroke-width="1.1" fill="none" stroke-linejoin="round"/>
<path d="M46.4,302.1 L47.9,301.2 L48.8,302.1 L63.1,302.1 L63.6,298.6 L64.5,297.7 L66.3,298.9 L69.2,299.2 L72.1,299.8 L75.0,300.1 L78.0,299.8 L80.3,298.6 L82.0,296.3 L83.2,289.3 L84.4,296.0 L85.5,298.9 L88.2,300.6 L90.2,302.7 L91.4,301.2 L93.1,299.8 L94.9,296.6 L95.8,296.0 L96.9,297.7 L98.4,298.9 L99.9,300.1 L101.9,302.4 L103.1,298.9 L104.2,297.1 L106.0,296.0 L108.6,294.8 L111.5,296.0 L113.6,293.6 L115.3,291.9 L116.8,289.6 L118.0,279.6 L118.8,282.0 L119.7,287.2 L120.6,292.5 L121.8,295.4 L122.9,298.9 L123.8,301.2 L124.7,290.7 L125.5,285.2 L126.4,291.6 L127.3,294.2 L128.8,295.1 L130.5,295.4 L132.8,294.2 L134.9,293.6 L136.9,293.1 L140.7,293.6 L145.1,294.2 L148.6,293.6 L150.9,293.3 L152.1,292.5 L152.7,275.5 L153.3,269.1 L154.2,267.9 L155.3,269.7 L156.8,268.8 L158.5,268.2 L160.3,267.1 L162.0,265.6 L163.5,265.0 L165.0,266.2 L166.4,264.1 L167.9,261.8 L168.8,264.4 L169.6,266.2 L171.4,264.4 L172.8,265.6 L174.0,266.8 L175.8,265.0 L177.2,266.2 L179.0,266.8 L181.3,265.6 L183.6,266.2 L186.0,267.4 L187.7,268.8 L189.2,269.7 L190.7,268.5 L192.4,268.2 L194.7,269.1 L197.1,268.5 L199.4,269.1 L202.0,268.8 L204.1,269.4 L206.4,270.0 L208.2,270.9 L209.3,275.0 L210.5,279.6 L212.3,284.3 L214.0,287.8 L215.8,290.1 L218.1,292.2 L221.0,293.9 L224.5,295.7 L228.3,296.9 L232.7,297.7 L240.0,298.9 L230.0,296.8 L235.8,298.3 L244.6,299.7 L253.4,300.6 L260.4,300.3 L262.1,298.9 L263.9,300.3 L269.4,300.9 L273.8,301.2 L278.2,301.5 L282.6,301.2 L288.4,301.5 L292.8,301.8 L297.2,301.5 L301.5,301.8 L304.5,301.5 L306.5,301.5 L308.1,300.9 L308.7,294.8 L309.3,282.2 L309.9,244.8 L310.8,204.3" stroke="#1f8f94" stroke-width="1.1" fill="none" stroke-linejoin="round"/>
<path d="M313.7,204.3 L314.9,244.8 L316.4,282.2 L317.7,294.8 L318.8,298.9 L319.9,300.9 L322.8,301.5 L326.4,301.8 L332.2,301.5 L338.0,301.8 L343.9,301.5 L349.7,301.8 L355.5,301.5 L361.4,301.8 L364.9,301.8" stroke="#1f8f94" stroke-width="1.1" fill="none" stroke-linejoin="round"/>
<path d="M369.6,302.1 L370.7,302.1 L371.0,253.9 L371.3,220.6 L372.5,223.5 L374.5,227.6 L376.9,230.8 L379.5,234.0 L382.4,237.8 L385.3,241.0 L387.7,243.4 L389.4,245.4 L390.0,253.9 L390.6,274.3 L391.5,290.4 L392.3,297.1 L393.2,294.2 L394.4,292.1 L396.4,290.4 L398.2,289.2 L399.9,288.3 L401.7,287.2 L403.4,286.9 L405.2,286.3 L406.6,285.7 L408.1,284.8 L409.3,286.0 L410.7,284.6 L412.2,283.7 L413.6,285.4 L415.1,283.7 L416.9,283.1" stroke="#1f8f94" stroke-width="1.1" fill="none" stroke-linejoin="round"/>
<line x1="154.45255474452557" y1="270.0729927007299" x2="174.5985401459854" y2="270.0729927007299" stroke="#f07d2a" stroke-width="1" stroke-dasharray="1.2 1.2"/>
<line x1="137.22627737226279" y1="292.84671532846716" x2="174.5985401459854" y2="292.84671532846716" stroke="#f07d2a" stroke-width="1" stroke-dasharray="1.2 1.2"/>
<line x1="173.72262773722628" y1="271.53284671532845" x2="173.72262773722628" y2="291.3868613138686" stroke="#f07d2a" stroke-width="0.9"/>
<path d="M172.0226277372263,272.4087591240876 L173.72262773722628,270.2189781021898 L175.42262773722626,272.4087591240876 Z M172.0226277372263,290.5109489051095 L173.72262773722628,292.7007299270073 L175.42262773722626,290.5109489051095 Z" fill="#f07d2a"/>
<text x="177.8" y="279.4" font-size="9" textLength="38.5" lengthAdjust="spacingAndGlyphs" fill="#f07d2a">OXPHOS</text>
<text x="177.8" y="292" font-size="9" fill="#f07d2a">CII</text>
<rect x="63.4" y="337.2" width="40.00000000000001" height="9.4" fill="#ff8080" stroke="#111" stroke-width="0.9"/>
<rect x="103.4" y="337.2" width="47.900000000000006" height="9.4" fill="#a3d100" stroke="#111" stroke-width="0.9"/>
<rect x="151.3" y="337.2" width="19.899999999999977" height="9.4" fill="#a3d100" stroke="#111" stroke-width="0.9"/>
<rect x="171.2" y="337.2" width="17.200000000000017" height="9.4" fill="#2b78f0" stroke="#111" stroke-width="0.9"/>
<rect x="188.4" y="337.2" width="18.099999999999994" height="9.4" fill="#2b78f0" stroke="#111" stroke-width="0.9"/>
<rect x="206.5" y="337.2" width="97.5" height="9.4" fill="#6d8d7c" stroke="#111" stroke-width="0.9"/>
<rect x="370" y="337.2" width="24.5" height="9.4" fill="#6cf019" stroke="#111" stroke-width="0.9"/>
<rect x="394.5" y="337.2" width="23.899999999999977" height="9.4" fill="#6d8d7c" stroke="#111" stroke-width="0.9"/>
<line x1="103.4" y1="346.59999999999997" x2="103.4" y2="371" stroke="#222" stroke-width="1" stroke-dasharray="1 1.2"/>
<line x1="151.3" y1="346.59999999999997" x2="151.3" y2="371" stroke="#222" stroke-width="1" stroke-dasharray="1 1.2"/>
<line x1="171.2" y1="346.59999999999997" x2="171.2" y2="371" stroke="#222" stroke-width="1" stroke-dasharray="1 1.2"/>
<line x1="188.4" y1="346.59999999999997" x2="188.4" y2="371" stroke="#222" stroke-width="1" stroke-dasharray="1 1.2"/>
<line x1="206.5" y1="346.59999999999997" x2="206.5" y2="371" stroke="#222" stroke-width="1" stroke-dasharray="1 1.2"/>
<text x="84.2" y="333.2" font-size="8.7" text-anchor="middle">Leak (L)</text>
<text x="140.8" y="333.2" font-size="8.7" text-anchor="middle">OXPHOS</text>
<text x="190.7" y="333.2" font-size="8.7" text-anchor="middle">ETS</text>
<text x="259" y="333.2" font-size="8.7" text-anchor="middle">ROX</text>
<text x="382.2" y="333.2" font-size="8.7" text-anchor="middle">CIV</text>
<text x="406.6" y="333.2" font-size="8.7" text-anchor="middle">ROX</text>
<text x="127.1" y="356.2" font-size="8.7" text-anchor="middle">CI</text>
<text x="160.6" y="356.2" font-size="8.7" text-anchor="middle">CI+</text>
<text x="159.4" y="368.5" font-size="8.7" text-anchor="middle">CII</text>
<text x="179.4" y="356.2" font-size="8.7" text-anchor="middle">CI+</text>
<text x="178.2" y="368.5" font-size="8.7" text-anchor="middle">CII</text>
<text x="197.4" y="356.2" font-size="8.7" text-anchor="middle">CII</text>
<text x="466.8" y="171.9" font-size="13.6" font-weight="bold" fill="#000" stroke="#000" stroke-width="0.7" stroke-linejoin="round">e</text>
<rect x="521.5" y="170" width="7.8" height="7.8" fill="#7f7f7f" stroke="#111" stroke-width="0.8"/>
<text x="533.7" y="176.4" font-size="8.4">ctr</text>
<rect x="521.5" y="182.2" width="7.8" height="7.8" fill="#caca00" stroke="#111" stroke-width="0.8"/>
<text x="533.7" y="188.6" font-size="8.4">C26 veh</text>
<rect x="521.5" y="194.3" width="7.8" height="7.8" fill="#a05fb0" stroke="#111" stroke-width="0.8"/>
<text x="533.7" y="200.70000000000002" font-size="8.4">C26 Rol</text>
<line x1="515.8" y1="203.5" x2="515.8" y2="304.9" stroke="#000" stroke-width="1"/>
<line x1="510.79999999999995" y1="304.4" x2="679" y2="304.4" stroke="#000" stroke-width="1"/>
<line x1="510.79999999999995" y1="304.4" x2="515.8" y2="304.4" stroke="#000" stroke-width="1"/>
<text x="506.99999999999994" y="307.5" font-size="8.6" text-anchor="end">0</text>
<line x1="510.79999999999995" y1="279.275" x2="515.8" y2="279.275" stroke="#000" stroke-width="1"/>
<text x="506.99999999999994" y="282.375" font-size="8.6" text-anchor="end">50</text>
<line x1="510.79999999999995" y1="254.14999999999998" x2="515.8" y2="254.14999999999998" stroke="#000" stroke-width="1"/>
<text x="506.99999999999994" y="257.25" font-size="8.6" text-anchor="end">100</text>
<line x1="510.79999999999995" y1="229.02499999999998" x2="515.8" y2="229.02499999999998" stroke="#000" stroke-width="1"/>
<text x="506.99999999999994" y="232.12499999999997" font-size="8.6" text-anchor="end">150</text>
<line x1="510.79999999999995" y1="203.89999999999998" x2="515.8" y2="203.89999999999998" stroke="#000" stroke-width="1"/>
<text x="506.99999999999994" y="206.99999999999997" font-size="8.6" text-anchor="end">200</text>
<text x="474.5" y="254.4" font-size="10" text-anchor="middle" transform="rotate(-90 474.5 254.4)" textLength="81.5" lengthAdjust="spacingAndGlyphs">OCR/tissue weight</text>
<text x="486" y="254" font-size="9.8" text-anchor="middle" transform="rotate(-90 486 254)" textLength="66" lengthAdjust="spacingAndGlyphs">(pmol s<tspan font-size="5.5" dy="-3.2">−1</tspan><tspan dy="3.2"> mg</tspan><tspan font-size="5.5" dy="-3.2">−1</tspan><tspan dy="3.2">)</tspan></text>
<line x1="527.8" y1="304.4" x2="527.8" y2="307.9" stroke="#000" stroke-width="1"/>
<text x="532.5999999999999" y="315" font-size="9.25" text-anchor="end" transform="rotate(-45 532.5999999999999 315)">Leak</text>
<circle cx="519.5" cy="301.6" r="1.85" fill="#fff" stroke="#222" stroke-width="0.75"/>
<circle cx="521.0" cy="302.6" r="1.85" fill="#fff" stroke="#222" stroke-width="0.75"/>
<circle cx="527.1" cy="302.4" r="1.85" fill="#fff" stroke="#222" stroke-width="0.75"/>
<circle cx="528.5" cy="303.0" r="1.85" fill="#fff" stroke="#222" stroke-width="0.75"/>
<circle cx="534.6" cy="301.8" r="1.85" fill="#fff" stroke="#222" stroke-width="0.75"/>
<circle cx="536.0" cy="302.8" r="1.85" fill="#fff" stroke="#222" stroke-width="0.75"/>
<line x1="555.6" y1="304.4" x2="555.6" y2="307.9" stroke="#000" stroke-width="1"/>
<text x="560.4" y="315" font-size="9.25" text-anchor="end" transform="rotate(-45 560.4 315)">OXPHOS CI</text>
<rect x="545.45" y="301.385" width="5.2" height="3.0149999999999864" fill="#7f7f7f" stroke="#111" stroke-width="0.8"/>
<circle cx="547.4" cy="299.5" r="1.85" fill="#fff" stroke="#222" stroke-width="0.75"/>
<circle cx="548.8" cy="301.0" r="1.85" fill="#fff" stroke="#222" stroke-width="0.75"/>
<rect x="553.0" y="301.8875" width="5.2" height="2.5124999999999886" fill="#caca00" stroke="#111" stroke-width="0.8"/>
<circle cx="554.9" cy="298.5" r="1.85" fill="#fff" stroke="#222" stroke-width="0.75"/>
<circle cx="556.3" cy="302.0" r="1.85" fill="#fff" stroke="#222" stroke-width="0.75"/>
<rect x="560.55" y="300.8825" width="5.2" height="3.517499999999984" fill="#6a1f7c" stroke="#111" stroke-width="0.8"/>
<circle cx="562.4" cy="296.5" r="1.85" fill="#fff" stroke="#222" stroke-width="0.75"/>
<circle cx="563.9" cy="300.0" r="1.85" fill="#fff" stroke="#222" stroke-width="0.75"/>
<circle cx="562.4" cy="302.0" r="1.85" fill="#fff" stroke="#222" stroke-width="0.75"/>
<line x1="583.4" y1="304.4" x2="583.4" y2="307.9" stroke="#000" stroke-width="1"/>
<text x="588.1999999999999" y="315" font-size="9.25" text-anchor="end" transform="rotate(-45 588.1999999999999 315)">OXPHOS CI+CII</text>
<rect x="573.25" y="257.66749999999996" width="5.2" height="46.732500000000016" fill="#7f7f7f" stroke="#111" stroke-width="0.8"/>
<line x1="575.85" y1="255.65749999999997" x2="575.85" y2="259.6775" stroke="#000" stroke-width="0.8"/>
<line x1="574.0500000000001" y1="255.65749999999997" x2="577.65" y2="255.65749999999997" stroke="#000" stroke-width="0.8"/>
<line x1="574.0500000000001" y1="259.6775" x2="577.65" y2="259.6775" stroke="#000" stroke-width="0.8"/>
<circle cx="575.1" cy="255.4" r="1.85" fill="#fff" stroke="#222" stroke-width="0.75"/>
<circle cx="576.6" cy="258.9" r="1.85" fill="#fff" stroke="#222" stroke-width="0.75"/>
<rect x="580.8" y="283.29499999999996" width="5.2" height="21.105000000000018" fill="#caca00" stroke="#111" stroke-width="0.8"/>
<line x1="583.4" y1="280.78249999999997" x2="583.4" y2="285.8075" stroke="#000" stroke-width="0.8"/>
<line x1="581.6" y1="280.78249999999997" x2="585.1999999999999" y2="280.78249999999997" stroke="#000" stroke-width="0.8"/>
<line x1="581.6" y1="285.8075" x2="585.1999999999999" y2="285.8075" stroke="#000" stroke-width="0.8"/>
<circle cx="582.7" cy="278.3" r="1.85" fill="#fff" stroke="#222" stroke-width="0.75"/>
<circle cx="584.1" cy="280.2" r="1.85" fill="#fff" stroke="#222" stroke-width="0.75"/>
<circle cx="582.7" cy="285.9" r="1.85" fill="#fff" stroke="#222" stroke-width="0.75"/>
<circle cx="584.1" cy="291.8" r="1.85" fill="#fff" stroke="#222" stroke-width="0.75"/>
<rect x="588.3499999999999" y="266.21" width="5.2" height="38.19" fill="#6a1f7c" stroke="#111" stroke-width="0.8"/>
<line x1="590.9499999999999" y1="262.19" x2="590.9499999999999" y2="270.22999999999996" stroke="#000" stroke-width="0.8"/>
<line x1="589.15" y1="262.19" x2="592.7499999999999" y2="262.19" stroke="#000" stroke-width="0.8"/>
<line x1="589.15" y1="270.22999999999996" x2="592.7499999999999" y2="270.22999999999996" stroke="#000" stroke-width="0.8"/>
<circle cx="590.2" cy="257.2" r="1.85" fill="#fff" stroke="#222" stroke-width="0.75"/>
<circle cx="591.6" cy="258.9" r="1.85" fill="#fff" stroke="#222" stroke-width="0.75"/>
<circle cx="590.2" cy="269.7" r="1.85" fill="#fff" stroke="#222" stroke-width="0.75"/>
<circle cx="591.6" cy="275.1" r="1.85" fill="#fff" stroke="#222" stroke-width="0.75"/>
<line x1="611.2" y1="304.4" x2="611.2" y2="307.9" stroke="#000" stroke-width="1"/>
<text x="616.0" y="315" font-size="9.25" text-anchor="end" transform="rotate(-45 616.0 315)">ETS CI+CII</text>
<rect x="601.0500000000001" y="257.66749999999996" width="5.2" height="46.732500000000016" fill="#7f7f7f" stroke="#111" stroke-width="0.8"/>
<line x1="603.6500000000001" y1="255.15499999999997" x2="603.6500000000001" y2="260.17999999999995" stroke="#000" stroke-width="0.8"/>
<line x1="601.8500000000001" y1="255.15499999999997" x2="605.45" y2="255.15499999999997" stroke="#000" stroke-width="0.8"/>
<line x1="601.8500000000001" y1="260.17999999999995" x2="605.45" y2="260.17999999999995" stroke="#000" stroke-width="0.8"/>
<circle cx="603.0" cy="255.4" r="1.85" fill="#fff" stroke="#222" stroke-width="0.75"/>
<circle cx="604.4" cy="257.5" r="1.85" fill="#fff" stroke="#222" stroke-width="0.75"/>
<circle cx="603.0" cy="262.9" r="1.85" fill="#fff" stroke="#222" stroke-width="0.75"/>
<rect x="608.6" y="283.29499999999996" width="5.2" height="21.105000000000018" fill="#caca00" stroke="#111" stroke-width="0.8"/>
<line x1="611.2" y1="280.28" x2="611.2" y2="286.31" stroke="#000" stroke-width="0.8"/>
<line x1="609.4000000000001" y1="280.28" x2="613.0" y2="280.28" stroke="#000" stroke-width="0.8"/>
<line x1="609.4000000000001" y1="286.31" x2="613.0" y2="286.31" stroke="#000" stroke-width="0.8"/>
<circle cx="610.5" cy="273.5" r="1.85" fill="#fff" stroke="#222" stroke-width="0.75"/>
<circle cx="611.9" cy="280.5" r="1.85" fill="#fff" stroke="#222" stroke-width="0.75"/>
<circle cx="610.5" cy="285.9" r="1.85" fill="#fff" stroke="#222" stroke-width="0.75"/>
<circle cx="611.9" cy="291.8" r="1.85" fill="#fff" stroke="#222" stroke-width="0.75"/>
<rect x="616.15" y="264.2" width="5.2" height="40.19999999999999" fill="#6a1f7c" stroke="#111" stroke-width="0.8"/>
<line x1="618.75" y1="260.17999999999995" x2="618.75" y2="268.21999999999997" stroke="#000" stroke-width="0.8"/>
<line x1="616.95" y1="260.17999999999995" x2="620.55" y2="260.17999999999995" stroke="#000" stroke-width="0.8"/>
<line x1="616.95" y1="268.21999999999997" x2="620.55" y2="268.21999999999997" stroke="#000" stroke-width="0.8"/>
<circle cx="618.0" cy="257.5" r="1.85" fill="#fff" stroke="#222" stroke-width="0.75"/>
<circle cx="619.5" cy="259.4" r="1.85" fill="#fff" stroke="#222" stroke-width="0.75"/>
<circle cx="618.0" cy="268.9" r="1.85" fill="#fff" stroke="#222" stroke-width="0.75"/>
<circle cx="619.5" cy="274.3" r="1.85" fill="#fff" stroke="#222" stroke-width="0.75"/>
<line x1="638.9" y1="304.4" x2="638.9" y2="307.9" stroke="#000" stroke-width="1"/>
<text x="643.6999999999999" y="315" font-size="9.25" text-anchor="end" transform="rotate(-45 643.6999999999999 315)">ETS CII</text>
<rect x="628.75" y="266.21" width="5.2" height="38.19" fill="#7f7f7f" stroke="#111" stroke-width="0.8"/>
<line x1="631.35" y1="262.19" x2="631.35" y2="270.22999999999996" stroke="#000" stroke-width="0.8"/>
<line x1="629.5500000000001" y1="262.19" x2="633.15" y2="262.19" stroke="#000" stroke-width="0.8"/>
<line x1="629.5500000000001" y1="270.22999999999996" x2="633.15" y2="270.22999999999996" stroke="#000" stroke-width="0.8"/>
<circle cx="630.6" cy="257.5" r="1.85" fill="#fff" stroke="#222" stroke-width="0.75"/>
<circle cx="632.1" cy="267.5" r="1.85" fill="#fff" stroke="#222" stroke-width="0.75"/>
<circle cx="630.6" cy="270.2" r="1.85" fill="#fff" stroke="#222" stroke-width="0.75"/>
<rect x="636.3" y="286.31" width="5.2" height="18.089999999999975" fill="#caca00" stroke="#111" stroke-width="0.8"/>
<line x1="638.9" y1="283.29499999999996" x2="638.9" y2="289.325" stroke="#000" stroke-width="0.8"/>
<line x1="637.1" y1="283.29499999999996" x2="640.6999999999999" y2="283.29499999999996" stroke="#000" stroke-width="0.8"/>
<line x1="637.1" y1="289.325" x2="640.6999999999999" y2="289.325" stroke="#000" stroke-width="0.8"/>
<circle cx="638.2" cy="278.3" r="1.85" fill="#fff" stroke="#222" stroke-width="0.75"/>
<circle cx="639.6" cy="281.0" r="1.85" fill="#fff" stroke="#222" stroke-width="0.75"/>
<circle cx="638.2" cy="287.0" r="1.85" fill="#fff" stroke="#222" stroke-width="0.75"/>
<circle cx="639.6" cy="293.7" r="1.85" fill="#fff" stroke="#222" stroke-width="0.75"/>
<rect x="643.8499999999999" y="273.245" width="5.2" height="31.154999999999973" fill="#6a1f7c" stroke="#111" stroke-width="0.8"/>
<line x1="646.4499999999999" y1="268.21999999999997" x2="646.4499999999999" y2="278.27" stroke="#000" stroke-width="0.8"/>
<line x1="644.65" y1="268.21999999999997" x2="648.2499999999999" y2="268.21999999999997" stroke="#000" stroke-width="0.8"/>
<line x1="644.65" y1="278.27" x2="648.2499999999999" y2="278.27" stroke="#000" stroke-width="0.8"/>
<circle cx="645.7" cy="260.2" r="1.85" fill="#fff" stroke="#222" stroke-width="0.75"/>
<circle cx="647.1" cy="266.7" r="1.85" fill="#fff" stroke="#222" stroke-width="0.75"/>
<circle cx="645.7" cy="277.0" r="1.85" fill="#fff" stroke="#222" stroke-width="0.75"/>
<circle cx="647.1" cy="279.7" r="1.85" fill="#fff" stroke="#222" stroke-width="0.75"/>
<line x1="666.6" y1="304.4" x2="666.6" y2="307.9" stroke="#000" stroke-width="1"/>
<text x="671.4" y="315" font-size="9.25" text-anchor="end" transform="rotate(-45 671.4 315)">CIV</text>
<rect x="656.45" y="228.52249999999998" width="5.2" height="75.8775" fill="#7f7f7f" stroke="#111" stroke-width="0.8"/>
<line x1="659.0500000000001" y1="226.5125" x2="659.0500000000001" y2="230.53249999999997" stroke="#000" stroke-width="0.8"/>
<line x1="657.2500000000001" y1="226.5125" x2="660.85" y2="226.5125" stroke="#000" stroke-width="0.8"/>
<line x1="657.2500000000001" y1="230.53249999999997" x2="660.85" y2="230.53249999999997" stroke="#000" stroke-width="0.8"/>
<circle cx="658.4" cy="224.3" r="1.85" fill="#fff" stroke="#222" stroke-width="0.75"/>
<circle cx="659.8" cy="226.2" r="1.85" fill="#fff" stroke="#222" stroke-width="0.75"/>
<circle cx="658.4" cy="229.2" r="1.85" fill="#fff" stroke="#222" stroke-width="0.75"/>
<rect x="664.0" y="266.21" width="5.2" height="38.19" fill="#caca00" stroke="#111" stroke-width="0.8"/>
<line x1="666.6" y1="264.2" x2="666.6" y2="268.21999999999997" stroke="#000" stroke-width="0.8"/>
<line x1="664.8000000000001" y1="264.2" x2="668.4" y2="264.2" stroke="#000" stroke-width="0.8"/>
<line x1="664.8000000000001" y1="268.21999999999997" x2="668.4" y2="268.21999999999997" stroke="#000" stroke-width="0.8"/>
<circle cx="665.9" cy="261.6" r="1.85" fill="#fff" stroke="#222" stroke-width="0.75"/>
<circle cx="667.3" cy="263.7" r="1.85" fill="#fff" stroke="#222" stroke-width="0.75"/>
<circle cx="665.9" cy="266.2" r="1.85" fill="#fff" stroke="#222" stroke-width="0.75"/>
<circle cx="667.3" cy="267.5" r="1.85" fill="#fff" stroke="#222" stroke-width="0.75"/>
<rect x="671.55" y="253.39624999999998" width="5.2" height="51.00375" fill="#6a1f7c" stroke="#111" stroke-width="0.8"/>
<line x1="674.15" y1="248.87374999999997" x2="674.15" y2="257.91875" stroke="#000" stroke-width="0.8"/>
<line x1="672.35" y1="248.87374999999997" x2="675.9499999999999" y2="248.87374999999997" stroke="#000" stroke-width="0.8"/>
<line x1="672.35" y1="257.91875" x2="675.9499999999999" y2="257.91875" stroke="#000" stroke-width="0.8"/>
<circle cx="673.4" cy="239.2" r="1.85" fill="#fff" stroke="#222" stroke-width="0.75"/>
<circle cx="674.9" cy="255.4" r="1.85" fill="#fff" stroke="#222" stroke-width="0.75"/>
<circle cx="673.4" cy="258.9" r="1.85" fill="#fff" stroke="#222" stroke-width="0.75"/>
<circle cx="674.9" cy="262.1" r="1.85" fill="#fff" stroke="#222" stroke-width="0.75"/>
<line x1="520.3" y1="294.5" x2="527.8" y2="294.5" stroke="#333" stroke-width="0.9"/>
<text x="525.7" y="291.8" font-size="6.6" text-anchor="middle" textLength="21.8" lengthAdjust="spacingAndGlyphs" fill="#333">0.0322</text>
<line x1="575.6" y1="248.1" x2="583.4" y2="248.1" stroke="#333" stroke-width="0.9"/>
<text x="577" y="245.5" font-size="6.6" text-anchor="middle" textLength="23.4" lengthAdjust="spacingAndGlyphs" fill="#333">0.0004</text>
<line x1="583.4" y1="240" x2="591.3" y2="240" stroke="#333" stroke-width="0.9"/>
<text x="589.4" y="237.4" font-size="6.6" text-anchor="middle" textLength="22.6" lengthAdjust="spacingAndGlyphs" fill="#333">0.0026</text>
<line x1="603.4" y1="248.1" x2="611.3" y2="248.1" stroke="#333" stroke-width="0.9"/>
<text x="608.7" y="245.8" font-size="6.6" text-anchor="middle" textLength="20.8" lengthAdjust="spacingAndGlyphs" fill="#333">0.0015</text>
<line x1="611.3" y1="240" x2="618.8" y2="240" stroke="#333" stroke-width="0.9"/>
<text x="616.3" y="237.4" font-size="6.6" text-anchor="middle" textLength="21.0" lengthAdjust="spacingAndGlyphs" fill="#333">0.0041</text>
<line x1="631.2" y1="252.7" x2="638.8" y2="252.7" stroke="#333" stroke-width="0.9"/>
<text x="634.4" y="250.6" font-size="6.6" text-anchor="middle" textLength="22.9" lengthAdjust="spacingAndGlyphs" fill="#333">0.0068</text>
<line x1="638.8" y1="243.2" x2="646.6" y2="243.2" stroke="#333" stroke-width="0.9"/>
<text x="645.2" y="241" font-size="6.6" text-anchor="middle" textLength="22.1" lengthAdjust="spacingAndGlyphs" fill="#333">0.0326</text>
<line x1="659" y1="208.6" x2="674.2" y2="208.6" stroke="#333" stroke-width="0.9"/>
<text x="666" y="206.4" font-size="6.6" text-anchor="middle" textLength="22.8" lengthAdjust="spacingAndGlyphs" fill="#333">0.0007</text>
<line x1="659" y1="218.1" x2="666.6" y2="218.1" stroke="#333" stroke-width="0.9"/>
<text x="663.6" y="215.8" font-size="6.6" text-anchor="middle" textLength="23.9" lengthAdjust="spacingAndGlyphs" fill="#333">&lt;0.0001</text>
<line x1="666.6" y1="232.9" x2="674.2" y2="232.9" stroke="#333" stroke-width="0.9"/>
<text x="674.6" y="230.6" font-size="6.6" text-anchor="middle" textLength="22.3" lengthAdjust="spacingAndGlyphs" fill="#333">0.0296</text>
<text x="0.1" y="413.6" font-size="13.6" font-weight="bold" fill="#000" stroke="#000" stroke-width="0.7" stroke-linejoin="round">f</text>
<text x="105.8" y="420.9" font-size="9.4" text-anchor="middle" textLength="53" lengthAdjust="spacingAndGlyphs" fill="#f07d2a">OXPHOS CII</text>
<line x1="77.2" y1="438.8" x2="77.2" y2="532.6" stroke="#000" stroke-width="1"/>
<line x1="72.7" y1="532.1" x2="144.3" y2="532.1" stroke="#000" stroke-width="1"/>
<line x1="72.7" y1="532.1" x2="77.2" y2="532.1" stroke="#000" stroke-width="1"/>
<text x="68.2" y="535.2" font-size="8.6" text-anchor="end">0</text>
<line x1="72.7" y1="513.54" x2="77.2" y2="513.54" stroke="#000" stroke-width="1"/>
<text x="68.2" y="516.64" font-size="8.6" text-anchor="end">20</text>
<line x1="72.7" y1="494.98" x2="77.2" y2="494.98" stroke="#000" stroke-width="1"/>
<text x="68.2" y="498.08000000000004" font-size="8.6" text-anchor="end">40</text>
<line x1="72.7" y1="476.42" x2="77.2" y2="476.42" stroke="#000" stroke-width="1"/>
<text x="68.2" y="479.52000000000004" font-size="8.6" text-anchor="end">60</text>
<line x1="72.7" y1="457.86" x2="77.2" y2="457.86" stroke="#000" stroke-width="1"/>
<text x="68.2" y="460.96000000000004" font-size="8.6" text-anchor="end">80</text>
<line x1="72.7" y1="439.3" x2="77.2" y2="439.3" stroke="#000" stroke-width="1"/>
<text x="68.2" y="442.40000000000003" font-size="8.6" text-anchor="end">100</text>
<text x="34.2" y="485.5" font-size="10" text-anchor="middle" transform="rotate(-90 34.2 485.5)" textLength="80" lengthAdjust="spacingAndGlyphs">OCR/tissue weight</text>
<text x="46.4" y="485.5" font-size="10" text-anchor="middle" transform="rotate(-90 46.4 485.5)" textLength="64" lengthAdjust="spacingAndGlyphs">(pmol s<tspan font-size="5.5" dy="-3.2">−1</tspan><tspan dy="3.2"> mg</tspan><tspan font-size="5.5" dy="-3.2">−1</tspan><tspan dy="3.2">)</tspan></text>
<rect x="84.5" y="455.4472" width="12" height="76.65280000000001" fill="#7f7f7f" stroke="#000" stroke-width="1"/>
<line x1="90.5" y1="532.1" x2="90.5" y2="535.9" stroke="#000" stroke-width="1"/>
<rect x="104.4" y="498.97040000000004" width="12" height="33.12959999999998" fill="#caca00" stroke="#000" stroke-width="1"/>
<line x1="110.4" y1="532.1" x2="110.4" y2="535.9" stroke="#000" stroke-width="1"/>
<rect x="124.6" y="470.38800000000003" width="12" height="61.71199999999999" fill="#6a1f7c" stroke="#000" stroke-width="1"/>
<line x1="130.6" y1="532.1" x2="130.6" y2="535.9" stroke="#000" stroke-width="1"/>
<line x1="90.3" y1="451.6" x2="90.3" y2="459.2" stroke="#000" stroke-width="1"/>
<line x1="87.05" y1="451.6" x2="93.55" y2="451.6" stroke="#000" stroke-width="1"/>
<line x1="87.05" y1="459.2" x2="93.55" y2="459.2" stroke="#000" stroke-width="1"/>
<line x1="110.3" y1="496.4" x2="110.3" y2="502.7" stroke="#000" stroke-width="1"/>
<line x1="107.05" y1="496.4" x2="113.55" y2="496.4" stroke="#000" stroke-width="1"/>
<line x1="107.05" y1="502.7" x2="113.55" y2="502.7" stroke="#000" stroke-width="1"/>
<line x1="130.5" y1="464.9" x2="130.5" y2="475.5" stroke="#000" stroke-width="1"/>
<line x1="127.25" y1="464.9" x2="133.75" y2="464.9" stroke="#000" stroke-width="1"/>
<line x1="127.25" y1="475.5" x2="133.75" y2="475.5" stroke="#000" stroke-width="1"/>
<circle cx="90.5" cy="448.3" r="1.9" fill="#fff" stroke="#222" stroke-width="0.8"/>
<circle cx="90.5" cy="457.1" r="1.9" fill="#fff" stroke="#222" stroke-width="0.8"/>
<circle cx="90.5" cy="461.2" r="1.9" fill="#fff" stroke="#222" stroke-width="0.8"/>
<circle cx="105.8" cy="493.5" r="1.9" fill="#fff" stroke="#222" stroke-width="0.8"/>
<circle cx="111.0" cy="494.3" r="1.9" fill="#fff" stroke="#222" stroke-width="0.8"/>
<circle cx="115.6" cy="493.5" r="1.9" fill="#fff" stroke="#222" stroke-width="0.8"/>
<circle cx="110.5" cy="511.7" r="1.9" fill="#fff" stroke="#222" stroke-width="0.8"/>
<circle cx="130.8" cy="454.0" r="1.9" fill="#fff" stroke="#222" stroke-width="0.8"/>
<circle cx="130.8" cy="461.2" r="1.9" fill="#fff" stroke="#222" stroke-width="0.8"/>
<circle cx="125.5" cy="474.5" r="1.9" fill="#fff" stroke="#222" stroke-width="0.8"/>
<circle cx="135.5" cy="476.5" r="1.9" fill="#fff" stroke="#222" stroke-width="0.8"/>
<circle cx="130.6" cy="484.7" r="1.9" fill="#fff" stroke="#222" stroke-width="0.8"/>
<line x1="90.5" y1="435.7" x2="110.3" y2="435.7" stroke="#333" stroke-width="0.9"/>
<text x="100" y="433.7" font-size="6.6" text-anchor="middle" textLength="23.4" lengthAdjust="spacingAndGlyphs" fill="#333">0.0004</text>
<line x1="110.3" y1="444.2" x2="130.6" y2="444.2" stroke="#333" stroke-width="0.9"/>
<text x="120.2" y="442.2" font-size="6.6" text-anchor="middle" textLength="22.1" lengthAdjust="spacingAndGlyphs" fill="#333">0.0027</text>
<text x="94.2" y="543.8" font-size="9.7" text-anchor="end" transform="rotate(-45 94.2 543.8)">ctr</text>
<text x="114.2" y="543.8" font-size="9.7" text-anchor="end" transform="rotate(-45 114.2 543.8)">C26 veh</text>
<text x="134.4" y="543.8" font-size="9.7" text-anchor="end" transform="rotate(-45 134.4 543.8)">C26 Rol</text>
<text x="211.8" y="409.8" font-size="13.6" font-weight="bold" fill="#000" stroke="#000" stroke-width="0.7" stroke-linejoin="round">g</text>
<line x1="246.1" y1="374.6" x2="271.7" y2="374.6" stroke="#111" stroke-width="2.6"/>
<line x1="246.1" y1="385.8" x2="271.7" y2="385.8" stroke="#1f8f94" stroke-width="2.6"/>
<text x="275.9" y="377.5" font-size="8.5" textLength="82" lengthAdjust="spacingAndGlyphs">O<tspan font-size="5.1" dy="1.6">2</tspan><tspan dy="-1.6"> concentration (µM)</tspan></text>
<text x="275.9" y="388.7" font-size="8.5" textLength="80.7" lengthAdjust="spacingAndGlyphs">O<tspan font-size="5.1" dy="1.6">2</tspan><tspan dy="-1.6"> flux (pmol s<tspan font-size="5" dy="-3">−1</tspan><tspan dy="3"> mg</tspan><tspan font-size="5" dy="-3">−1</tspan><tspan dy="3">)</tspan></tspan></text>
<line x1="248.5" y1="431.1" x2="248.5" y2="529.8" stroke="#444" stroke-width="0.9"/>
<line x1="248.5" y1="529.4" x2="624.2" y2="529.4" stroke="#444" stroke-width="0.9"/>
<line x1="624.2" y1="431.1" x2="624.2" y2="529.8" stroke="#444" stroke-width="0.9"/>
<line x1="245.7" y1="529.4" x2="248.5" y2="529.4" stroke="#444" stroke-width="0.9"/>
<text x="243.1" y="532.4" font-size="8.5" text-anchor="end">0</text>
<line x1="245.7" y1="509.82" x2="248.5" y2="509.82" stroke="#444" stroke-width="0.9"/>
<text x="243.1" y="512.8199999999999" font-size="8.5" text-anchor="end">50</text>
<line x1="245.7" y1="490.23999999999995" x2="248.5" y2="490.23999999999995" stroke="#444" stroke-width="0.9"/>
<text x="243.1" y="493.23999999999995" font-size="8.5" text-anchor="end">100</text>
<line x1="245.7" y1="470.65999999999997" x2="248.5" y2="470.65999999999997" stroke="#444" stroke-width="0.9"/>
<text x="243.1" y="473.65999999999997" font-size="8.5" text-anchor="end">150</text>
<line x1="245.7" y1="451.08" x2="248.5" y2="451.08" stroke="#444" stroke-width="0.9"/>
<text x="243.1" y="454.08" font-size="8.5" text-anchor="end">200</text>
<line x1="245.7" y1="431.5" x2="248.5" y2="431.5" stroke="#444" stroke-width="0.9"/>
<text x="243.1" y="434.5" font-size="8.5" text-anchor="end">250</text>
<line x1="248.5" y1="529.4" x2="248.5" y2="532.1999999999999" stroke="#444" stroke-width="0.9"/>
<text x="248.5" y="541.8" font-size="8.3" text-anchor="middle">0</text>
<line x1="311.12" y1="529.4" x2="311.12" y2="532.1999999999999" stroke="#444" stroke-width="0.9"/>
<text x="311.12" y="541.8" font-size="8.3" text-anchor="middle">7</text>
<line x1="373.74" y1="529.4" x2="373.74" y2="532.1999999999999" stroke="#444" stroke-width="0.9"/>
<text x="373.74" y="541.8" font-size="8.3" text-anchor="middle">15</text>
<line x1="436.36" y1="529.4" x2="436.36" y2="532.1999999999999" stroke="#444" stroke-width="0.9"/>
<text x="436.36" y="541.8" font-size="8.3" text-anchor="middle">22</text>
<line x1="498.98" y1="529.4" x2="498.98" y2="532.1999999999999" stroke="#444" stroke-width="0.9"/>
<text x="498.98" y="541.8" font-size="8.3" text-anchor="middle">30</text>
<line x1="561.5999999999999" y1="529.4" x2="561.5999999999999" y2="532.1999999999999" stroke="#444" stroke-width="0.9"/>
<text x="561.5999999999999" y="541.8" font-size="8.3" text-anchor="middle">37</text>
<line x1="624.22" y1="529.4" x2="624.22" y2="532.1999999999999" stroke="#444" stroke-width="0.9"/>
<text x="624.22" y="541.8" font-size="8.3" text-anchor="middle">45</text>
<text x="219" y="541.6" font-size="9.4">Min:</text>
<line x1="624.2" y1="529.4" x2="626.8000000000001" y2="529.4" stroke="#444" stroke-width="0.9"/>
<text x="629.8000000000001" y="532.4" font-size="8.4">0</text>
<line x1="624.2" y1="509.82" x2="626.8000000000001" y2="509.82" stroke="#444" stroke-width="0.9"/>
<text x="629.8000000000001" y="512.8199999999999" font-size="8.4">1,000</text>
<line x1="624.2" y1="490.24" x2="626.8000000000001" y2="490.24" stroke="#444" stroke-width="0.9"/>
<text x="629.8000000000001" y="493.24" font-size="8.4">2,000</text>
<line x1="624.2" y1="470.65999999999997" x2="626.8000000000001" y2="470.65999999999997" stroke="#444" stroke-width="0.9"/>
<text x="629.8000000000001" y="473.65999999999997" font-size="8.4">3,000</text>
<line x1="624.2" y1="451.08" x2="626.8000000000001" y2="451.08" stroke="#444" stroke-width="0.9"/>
<text x="629.8000000000001" y="454.08" font-size="8.4">4,000</text>
<line x1="624.2" y1="431.5" x2="626.8000000000001" y2="431.5" stroke="#444" stroke-width="0.9"/>
<text x="629.8000000000001" y="434.5" font-size="8.4">5,000</text>
<text x="219.2" y="481.6" font-size="9.8" text-anchor="middle" transform="rotate(-90 219.2 481.6)" textLength="97" lengthAdjust="spacingAndGlyphs">O<tspan font-size="6" dy="1.6">2</tspan><tspan dy="-1.6"> concentration (µM)</tspan></text>
<text x="660.6" y="482" font-size="9.8" text-anchor="middle" transform="rotate(90 660.6 482)" textLength="97" lengthAdjust="spacingAndGlyphs">O<tspan font-size="6" dy="1.6">2</tspan><tspan dy="-1.6"> flux (pmol s</tspan><tspan font-size="5.5" dy="-3.2">−1</tspan><tspan dy="3.2"> mg</tspan><tspan font-size="5.5" dy="-3.2">−1</tspan><tspan dy="3.2">)</tspan></text>
<text x="292.2" y="419.2" font-size="9.1" text-anchor="middle">Cells</text>
<line x1="292.4" y1="426.5" x2="292.4" y2="478.3" stroke="#111" stroke-width="0.9"/>
<path d="M290.5,477.8 L294.29999999999995,477.8 L292.4,482.3 Z" fill="#111"/>
<text x="322.8" y="419.2" font-size="9.1" text-anchor="middle">P</text>
<line x1="322.8" y1="426.5" x2="322.8" y2="478.3" stroke="#111" stroke-width="0.9"/>
<path d="M320.90000000000003,477.8 L324.7,477.8 L322.8,482.3 Z" fill="#111"/>
<text x="368.1" y="419.2" font-size="9.1" text-anchor="middle">Omy</text>
<line x1="368.4" y1="426.5" x2="368.4" y2="478.3" stroke="#111" stroke-width="0.9"/>
<path d="M366.5,477.8 L370.29999999999995,477.8 L368.4,482.3 Z" fill="#111"/>
<text x="513.5" y="419.2" font-size="9.1" text-anchor="middle">FCCP</text>
<text x="598.5" y="419.2" font-size="9.1" text-anchor="middle">Rot</text>
<text x="613.1" y="408.2" font-size="9.1" text-anchor="middle">Ama</text>
<line x1="432.7" y1="425.8" x2="585.7" y2="425.8" stroke="#111" stroke-width="0.9"/>
<line x1="432.7" y1="425.8" x2="432.7" y2="478.8" stroke="#111" stroke-width="0.9"/>
<path d="M431.0,478.3 L434.4,478.3 L432.7,482.3 Z" fill="#111"/>
<line x1="448.9" y1="425.8" x2="448.9" y2="468.6" stroke="#111" stroke-width="0.9"/>
<path d="M447.2,468.1 L450.59999999999997,468.1 L448.9,472.1 Z" fill="#111"/>
<line x1="465.7" y1="425.8" x2="465.7" y2="460.6" stroke="#111" stroke-width="0.9"/>
<path d="M464.0,460.1 L467.4,460.1 L465.7,464.1 Z" fill="#111"/>
<line x1="492.3" y1="425.8" x2="492.3" y2="455.1" stroke="#111" stroke-width="0.9"/>
<path d="M490.6,454.6 L494.0,454.6 L492.3,458.6 Z" fill="#111"/>
<line x1="508" y1="425.8" x2="508" y2="443.1" stroke="#111" stroke-width="0.9"/>
<path d="M506.3,442.6 L509.7,442.6 L508,446.6 Z" fill="#111"/>
<line x1="527" y1="425.8" x2="527" y2="438.3" stroke="#111" stroke-width="0.9"/>
<path d="M525.3,437.8 L528.7,437.8 L527,441.8 Z" fill="#111"/>
<line x1="551.8" y1="425.8" x2="551.8" y2="433.2" stroke="#111" stroke-width="0.9"/>
<path d="M550.0999999999999,432.7 L553.5,432.7 L551.8,436.7 Z" fill="#111"/>
<line x1="564.6" y1="425.8" x2="564.6" y2="431.0" stroke="#111" stroke-width="0.9"/>
<path d="M562.9,430.5 L566.3000000000001,430.5 L564.6,434.5 Z" fill="#111"/>
<line x1="585.7" y1="425.8" x2="585.7" y2="429.6" stroke="#111" stroke-width="0.9"/>
<path d="M584.0,429.1 L587.4000000000001,429.1 L585.7,433.1 Z" fill="#111"/>
<line x1="598.5" y1="425.8" x2="598.5" y2="429.6" stroke="#111" stroke-width="0.9"/>
<path d="M596.8,429.1 L600.2,429.1 L598.5,433.1 Z" fill="#111"/>
<line x1="613.3" y1="411.9" x2="613.3" y2="429.1" stroke="#111" stroke-width="0.9"/>
<path d="M611.4,428.6 L615.1999999999999,428.6 L613.3,433.1 Z" fill="#111"/>
<line x1="352.4" y1="436.7" x2="566.4" y2="436.7" stroke="#f07d2a" stroke-width="1" stroke-dasharray="3 2"/>
<line x1="352.4" y1="509.7" x2="398.8" y2="509.7" stroke="#f07d2a" stroke-width="1" stroke-dasharray="3 2"/>
<line x1="353.1" y1="439.7" x2="353.1" y2="506.7" stroke="#f07d2a" stroke-width="0.9"/>
<path d="M351.40000000000003,440.3 L353.1,437.0 L354.8,440.3 Z M351.40000000000003,506.09999999999997 L353.1,509.4 L354.8,506.09999999999997 Z" fill="#f07d2a"/>
<line x1="397.7" y1="512.7" x2="397.7" y2="519.1" stroke="#f07d2a" stroke-width="0.9"/>
<path d="M396.0,513.3 L397.7,510.0 L399.4,513.3 Z M396.0,518.5 L397.7,521.8000000000001 L399.4,518.5 Z" fill="#f07d2a"/>
<text x="355" y="491.5" font-size="9" textLength="34" lengthAdjust="spacingAndGlyphs" fill="#f07d2a">Reserve</text>
<text x="355" y="503.9" font-size="9" textLength="36.5" lengthAdjust="spacingAndGlyphs" fill="#f07d2a">capacity</text>
<text x="403.5" y="518.8" font-size="9" textLength="94.6" lengthAdjust="spacingAndGlyphs" fill="#f07d2a">ATP-linked respiration</text>
<path d="M248.4,455.0 L263.0,457.2 L292.2,457.9 L336.0,461.2 L368.1,463.7 L409.0,465.9 L440.0,467.0 L449.6,468.8 L471.5,472.5 L492.3,478.3 L508.0,483.4 L527.0,490.4 L551.8,501.3 L573.7,510.4 L588.3,515.2 L597.4,517.4 L624.1,517.4" stroke="#111" stroke-width="1.1" fill="none" stroke-linejoin="round"/>
<path d="M248.4,455.0 L249.5,457.5 L250.6,468.5 L252.0,472.1 L253.9,475.8 L255.7,481.2 L259.3,495.8 L263.0,508.6 L266.6,519.6 L269.6,525.0 L272.1,525.8 L273.9,524.3 L277.6,526.1 L281.2,528.0 L285.6,529.8 L292.2,530.1 L293.3,530.1 L294.4,515.9 L295.8,514.1 L299.5,513.4 L306.8,513.0 L314.1,512.3 L321.4,513.0 L328.7,512.3 L336.0,511.5 L341.5,510.4 L345.1,511.9 L348.8,510.4 L352.4,512.6 L356.1,511.2 L361.5,510.4 L365.2,510.4 L366.6,515.9 L367.7,528.7 L369.2,529.8 L370.3,521.4 L371.4,512.3 L374.3,514.1 L378.0,517.7 L383.4,520.7 L388.9,522.5 L394.4,523.2 L401.7,522.8 L409.0,522.5 L416.3,522.1 L421.8,521.4 L427.2,523.2 L431.6,525.8 L433.1,527.2 L434.5,514.1 L436.4,506.8 L438.2,505.3 L440.0,505.3 L435.0,505.3 L442.3,506.1 L447.8,509.0 L449.6,507.5 L451.4,497.7 L453.2,485.6 L456.9,484.2 L462.4,484.2 L464.9,487.8 L466.4,489.3 L467.8,481.2 L469.7,473.2 L473.3,470.3 L478.8,469.6 L486.1,469.6 L490.5,469.6 L492.3,477.6 L493.4,472.1 L495.2,461.2 L497.0,456.8 L502.5,456.4 L506.2,457.5 L508.0,463.0 L509.8,459.3 L511.6,450.2 L513.5,447.7 L518.9,446.9 L524.4,447.7 L526.2,449.1 L528.1,444.7 L529.9,442.2 L537.2,441.1 L544.5,441.1 L548.1,442.2 L550.0,448.4 L551.8,453.9 L553.6,448.4 L555.4,439.3 L560.9,438.2 L562.7,441.1 L564.2,448.4 L565.7,446.6 L567.1,438.2 L570.0,436.4 L577.3,436.7 L582.8,438.2 L584.6,444.7 L586.1,448.4 L587.6,442.9 L589.4,437.4 L593.8,436.7 L597.4,436.7 L598.5,441.1 L600.0,481.2 L601.4,517.7 L602.9,526.9 L606.5,528.7 L610.2,528.3 L613.1,529.8" stroke="#1f8f94" stroke-width="1.1" fill="none" stroke-linejoin="round"/>
<rect x="292.2" y="551.3" width="75.5" height="8.8" fill="#a3d100" stroke="#111" stroke-width="0.9"/>
<rect x="367.7" y="551.3" width="65.0" height="8.8" fill="#ff8080" stroke="#111" stroke-width="0.9"/>
<rect x="432.7" y="551.3" width="170.2" height="8.8" fill="#2b78f0" stroke="#111" stroke-width="0.9"/>
<rect x="602.9" y="551.3" width="20.800000000000068" height="8.8" fill="#6d8d7c" stroke="#111" stroke-width="0.9"/>
<text x="330.5" y="571.8" font-size="8.7" text-anchor="middle">Routine (R)</text>
<text x="399.9" y="571.8" font-size="8.7" text-anchor="middle">Leak (L)</text>
<text x="517.8" y="571.8" font-size="8.7" text-anchor="middle">ETS</text>
<text x="613.1" y="571.8" font-size="8.7" text-anchor="middle">ROX</text>
<text x="0.1" y="596.8" font-size="13.6" font-weight="bold" fill="#000" stroke="#000" stroke-width="0.7" stroke-linejoin="round">h</text>
<rect x="65.5" y="585" width="7.6" height="7.6" fill="#7f7f7f" stroke="#111" stroke-width="0.8"/>
<text x="77.9" y="591.2" font-size="8.4">ctr</text>
<rect x="65.5" y="597.5" width="7.6" height="7.6" fill="#cfcf10" stroke="#111" stroke-width="0.8"/>
<text x="77.9" y="603.7" font-size="8.4">C26 TCM</text>
<rect x="65.5" y="609.5" width="7.6" height="7.6" fill="#b48cc4" stroke="#111" stroke-width="0.8"/>
<text x="77.9" y="615.7" font-size="8.4" textLength="53.7" lengthAdjust="spacingAndGlyphs">C26 TCM + Rol</text>
<line x1="59.7" y1="616.4" x2="59.7" y2="710.1" stroke="#000" stroke-width="1"/>
<line x1="54.7" y1="709.6" x2="199.8" y2="709.6" stroke="#000" stroke-width="1"/>
<line x1="54.7" y1="709.6" x2="59.7" y2="709.6" stroke="#000" stroke-width="1"/>
<text x="50.300000000000004" y="712.7" font-size="8.6" text-anchor="end">0</text>
<line x1="54.7" y1="694.15" x2="59.7" y2="694.15" stroke="#000" stroke-width="1"/>
<text x="50.300000000000004" y="697.25" font-size="8.6" text-anchor="end">1,000</text>
<line x1="54.7" y1="678.7" x2="59.7" y2="678.7" stroke="#000" stroke-width="1"/>
<text x="50.300000000000004" y="681.8000000000001" font-size="8.6" text-anchor="end">2,000</text>
<line x1="54.7" y1="663.25" x2="59.7" y2="663.25" stroke="#000" stroke-width="1"/>
<text x="50.300000000000004" y="666.35" font-size="8.6" text-anchor="end">3,000</text>
<line x1="54.7" y1="647.8000000000001" x2="59.7" y2="647.8000000000001" stroke="#000" stroke-width="1"/>
<text x="50.300000000000004" y="650.9000000000001" font-size="8.6" text-anchor="end">4,000</text>
<line x1="54.7" y1="632.35" x2="59.7" y2="632.35" stroke="#000" stroke-width="1"/>
<text x="50.300000000000004" y="635.45" font-size="8.6" text-anchor="end">5,000</text>
<line x1="54.7" y1="616.9000000000001" x2="59.7" y2="616.9000000000001" stroke="#000" stroke-width="1"/>
<text x="50.300000000000004" y="620.0000000000001" font-size="8.6" text-anchor="end">6,000</text>
<text x="9" y="664" font-size="10" text-anchor="middle" transform="rotate(-90 9 664)" textLength="80.5" lengthAdjust="spacingAndGlyphs">OCR/tissue weight</text>
<text x="21" y="664" font-size="10" text-anchor="middle" transform="rotate(-90 21 664)" textLength="65" lengthAdjust="spacingAndGlyphs">(pmol s<tspan font-size="5.5" dy="-3.2">−1</tspan><tspan dy="3.2"> mg</tspan><tspan font-size="5.5" dy="-3.2">−1</tspan><tspan dy="3.2">)</tspan></text>
<line x1="81.3" y1="709.6" x2="81.3" y2="713.4" stroke="#000" stroke-width="1"/>
<text x="83.89999999999999" y="719.4" font-size="9.6" text-anchor="end" transform="rotate(-45 83.89999999999999 719.4)">Routine</text>
<rect x="64.55" y="700.1755" width="7.8" height="9.424499999999966" fill="#7f7f7f" stroke="#111" stroke-width="0.9"/>
<line x1="68.45" y1="699.2485" x2="68.45" y2="701.1025000000001" stroke="#000" stroke-width="0.9"/>
<line x1="65.95" y1="699.2485" x2="70.95" y2="699.2485" stroke="#000" stroke-width="0.9"/>
<line x1="65.95" y1="701.1025000000001" x2="70.95" y2="701.1025000000001" stroke="#000" stroke-width="0.9"/>
<rect x="77.39999999999999" y="701.875" width="7.8" height="7.725000000000023" fill="#caca00" stroke="#111" stroke-width="0.9"/>
<line x1="81.3" y1="701.1025000000001" x2="81.3" y2="702.6475" stroke="#000" stroke-width="0.9"/>
<line x1="78.8" y1="701.1025000000001" x2="83.8" y2="701.1025000000001" stroke="#000" stroke-width="0.9"/>
<line x1="78.8" y1="702.6475" x2="83.8" y2="702.6475" stroke="#000" stroke-width="0.9"/>
<rect x="90.24999999999999" y="698.785" width="7.8" height="10.815000000000055" fill="#a87cb8" stroke="#111" stroke-width="0.9"/>
<line x1="94.14999999999999" y1="697.7035000000001" x2="94.14999999999999" y2="699.8665" stroke="#000" stroke-width="0.9"/>
<line x1="91.64999999999999" y1="697.7035000000001" x2="96.64999999999999" y2="697.7035000000001" stroke="#000" stroke-width="0.9"/>
<line x1="91.64999999999999" y1="699.8665" x2="96.64999999999999" y2="699.8665" stroke="#000" stroke-width="0.9"/>
<line x1="129.3" y1="709.6" x2="129.3" y2="713.4" stroke="#000" stroke-width="1"/>
<text x="131.9" y="719.4" font-size="9.6" text-anchor="end" transform="rotate(-45 131.9 719.4)">Leak</text>
<rect x="112.55000000000001" y="707.2825" width="7.8" height="2.3174999999999955" fill="#7f7f7f" stroke="#111" stroke-width="0.9"/>
<line x1="116.45000000000002" y1="706.8190000000001" x2="116.45000000000002" y2="707.746" stroke="#000" stroke-width="0.9"/>
<line x1="113.95000000000002" y1="706.8190000000001" x2="118.95000000000002" y2="706.8190000000001" stroke="#000" stroke-width="0.9"/>
<line x1="113.95000000000002" y1="707.746" x2="118.95000000000002" y2="707.746" stroke="#000" stroke-width="0.9"/>
<rect x="125.4" y="707.746" width="7.8" height="1.8540000000000418" fill="#caca00" stroke="#111" stroke-width="0.9"/>
<line x1="129.3" y1="707.2825" x2="129.3" y2="708.2095" stroke="#000" stroke-width="0.9"/>
<line x1="126.80000000000001" y1="707.2825" x2="131.8" y2="707.2825" stroke="#000" stroke-width="0.9"/>
<line x1="126.80000000000001" y1="708.2095" x2="131.8" y2="708.2095" stroke="#000" stroke-width="0.9"/>
<rect x="138.25" y="707.128" width="7.8" height="2.47199999999998" fill="#a87cb8" stroke="#111" stroke-width="0.9"/>
<line x1="142.15" y1="706.6645" x2="142.15" y2="707.5915" stroke="#000" stroke-width="0.9"/>
<line x1="139.65" y1="706.6645" x2="144.65" y2="706.6645" stroke="#000" stroke-width="0.9"/>
<line x1="139.65" y1="707.5915" x2="144.65" y2="707.5915" stroke="#000" stroke-width="0.9"/>
<line x1="177" y1="709.6" x2="177" y2="713.4" stroke="#000" stroke-width="1"/>
<text x="179.6" y="719.4" font-size="9.6" text-anchor="end" transform="rotate(-45 179.6 719.4)">ETS</text>
<rect x="160.25" y="649.963" width="7.8" height="59.63700000000006" fill="#7f7f7f" stroke="#111" stroke-width="0.9"/>
<line x1="164.15" y1="643.9375" x2="164.15" y2="655.9885" stroke="#000" stroke-width="0.9"/>
<line x1="161.65" y1="643.9375" x2="166.65" y2="643.9375" stroke="#000" stroke-width="0.9"/>
<line x1="161.65" y1="655.9885" x2="166.65" y2="655.9885" stroke="#000" stroke-width="0.9"/>
<rect x="173.1" y="663.4045" width="7.8" height="46.19550000000004" fill="#caca00" stroke="#111" stroke-width="0.9"/>
<line x1="177.0" y1="659.851" x2="177.0" y2="666.958" stroke="#000" stroke-width="0.9"/>
<line x1="174.5" y1="659.851" x2="179.5" y2="659.851" stroke="#000" stroke-width="0.9"/>
<line x1="174.5" y1="666.958" x2="179.5" y2="666.958" stroke="#000" stroke-width="0.9"/>
<rect x="185.95" y="649.0360000000001" width="7.8" height="60.563999999999965" fill="#a87cb8" stroke="#111" stroke-width="0.9"/>
<line x1="189.85" y1="642.238" x2="189.85" y2="655.8340000000001" stroke="#000" stroke-width="0.9"/>
<line x1="187.35" y1="642.238" x2="192.35" y2="642.238" stroke="#000" stroke-width="0.9"/>
<line x1="187.35" y1="655.8340000000001" x2="192.35" y2="655.8340000000001" stroke="#000" stroke-width="0.9"/>
<circle cx="163.9" cy="635.4" r="1.9" fill="#fff" stroke="#222" stroke-width="0.8"/>
<circle cx="163.9" cy="652.2" r="1.9" fill="#fff" stroke="#222" stroke-width="0.8"/>
<circle cx="163.9" cy="657.9" r="1.9" fill="#fff" stroke="#222" stroke-width="0.8"/>
<circle cx="163.9" cy="662.3" r="1.9" fill="#fff" stroke="#222" stroke-width="0.8"/>
<circle cx="177.0" cy="650.5" r="1.9" fill="#fff" stroke="#222" stroke-width="0.8"/>
<circle cx="174.6" cy="661.6" r="1.9" fill="#fff" stroke="#222" stroke-width="0.8"/>
<circle cx="179.7" cy="661.6" r="1.9" fill="#fff" stroke="#222" stroke-width="0.8"/>
<circle cx="177.0" cy="668.0" r="1.9" fill="#fff" stroke="#222" stroke-width="0.8"/>
<circle cx="174.6" cy="672.3" r="1.9" fill="#fff" stroke="#222" stroke-width="0.8"/>
<circle cx="179.3" cy="670.7" r="1.9" fill="#fff" stroke="#222" stroke-width="0.8"/>
<circle cx="190.1" cy="640.4" r="1.9" fill="#fff" stroke="#222" stroke-width="0.8"/>
<circle cx="190.1" cy="645.5" r="1.9" fill="#fff" stroke="#222" stroke-width="0.8"/>
<circle cx="190.1" cy="652.2" r="1.9" fill="#fff" stroke="#222" stroke-width="0.8"/>
<circle cx="190.1" cy="669.0" r="1.9" fill="#fff" stroke="#222" stroke-width="0.8"/>
<circle cx="69.8" cy="695.2" r="1.9" fill="#fff" stroke="#222" stroke-width="0.8"/>
<circle cx="66.2" cy="699.2" r="1.9" fill="#fff" stroke="#222" stroke-width="0.8"/>
<circle cx="71.2" cy="699.9" r="1.9" fill="#fff" stroke="#222" stroke-width="0.8"/>
<circle cx="68.2" cy="701.6" r="1.9" fill="#fff" stroke="#222" stroke-width="0.8"/>
<circle cx="81.6" cy="698.2" r="1.9" fill="#fff" stroke="#222" stroke-width="0.8"/>
<circle cx="78.9" cy="701.6" r="1.9" fill="#fff" stroke="#222" stroke-width="0.8"/>
<circle cx="83.3" cy="700.9" r="1.9" fill="#fff" stroke="#222" stroke-width="0.8"/>
<circle cx="80.6" cy="703.6" r="1.9" fill="#fff" stroke="#222" stroke-width="0.8"/>
<circle cx="92.3" cy="695.9" r="1.9" fill="#fff" stroke="#222" stroke-width="0.8"/>
<circle cx="96.7" cy="696.5" r="1.9" fill="#fff" stroke="#222" stroke-width="0.8"/>
<circle cx="94.7" cy="699.9" r="1.9" fill="#fff" stroke="#222" stroke-width="0.8"/>
<circle cx="92.3" cy="700.9" r="1.9" fill="#fff" stroke="#222" stroke-width="0.8"/>
<circle cx="96.7" cy="700.2" r="1.9" fill="#fff" stroke="#222" stroke-width="0.8"/>
<circle cx="116.5" cy="703.2" r="1.9" fill="#fff" stroke="#222" stroke-width="0.8"/>
<circle cx="114.2" cy="706.9" r="1.9" fill="#fff" stroke="#222" stroke-width="0.8"/>
<circle cx="118.5" cy="706.9" r="1.9" fill="#fff" stroke="#222" stroke-width="0.8"/>
<circle cx="126.9" cy="705.9" r="1.9" fill="#fff" stroke="#222" stroke-width="0.8"/>
<circle cx="131.6" cy="705.9" r="1.9" fill="#fff" stroke="#222" stroke-width="0.8"/>
<circle cx="129.3" cy="707.6" r="1.9" fill="#fff" stroke="#222" stroke-width="0.8"/>
<circle cx="139.7" cy="704.2" r="1.9" fill="#fff" stroke="#222" stroke-width="0.8"/>
<circle cx="142.0" cy="704.9" r="1.9" fill="#fff" stroke="#222" stroke-width="0.8"/>
<circle cx="144.4" cy="706.9" r="1.9" fill="#fff" stroke="#222" stroke-width="0.8"/>
<circle cx="140.4" cy="707.6" r="1.9" fill="#fff" stroke="#222" stroke-width="0.8"/>
<line x1="163.9" y1="627.7" x2="177" y2="627.7" stroke="#333" stroke-width="0.9"/>
<text x="170" y="625.7" font-size="6.6" text-anchor="middle" textLength="22.9" lengthAdjust="spacingAndGlyphs" fill="#333">0.0066</text>
<line x1="177" y1="636.4" x2="190.1" y2="636.4" stroke="#333" stroke-width="0.9"/>
<text x="183.4" y="634.4" font-size="6.6" text-anchor="middle" textLength="23.1" lengthAdjust="spacingAndGlyphs" fill="#333">0.0044</text>
<text x="210.3" y="596.8" font-size="13.6" font-weight="bold" fill="#000" stroke="#000" stroke-width="0.3" stroke-linejoin="round">i</text>
<text x="297" y="601.8" font-size="9.4" text-anchor="middle" textLength="94.7" lengthAdjust="spacingAndGlyphs" fill="#f07d2a">ATP-linked respiration</text>
<line x1="263.7" y1="616.4" x2="263.7" y2="710.1" stroke="#000" stroke-width="1"/>
<line x1="258.7" y1="709.6" x2="330.2" y2="709.6" stroke="#000" stroke-width="1"/>
<line x1="258.7" y1="709.6" x2="263.7" y2="709.6" stroke="#000" stroke-width="1"/>
<text x="255.1" y="712.7" font-size="8.6" text-anchor="end">0</text>
<line x1="258.7" y1="678.74" x2="263.7" y2="678.74" stroke="#000" stroke-width="1"/>
<text x="255.1" y="681.84" font-size="8.6" text-anchor="end">200</text>
<line x1="258.7" y1="647.88" x2="263.7" y2="647.88" stroke="#000" stroke-width="1"/>
<text x="255.1" y="650.98" font-size="8.6" text-anchor="end">400</text>
<line x1="258.7" y1="617.02" x2="263.7" y2="617.02" stroke="#000" stroke-width="1"/>
<text x="255.1" y="620.12" font-size="8.6" text-anchor="end">600</text>
<text x="219.1" y="664" font-size="10" text-anchor="middle" transform="rotate(-90 219.1 664)" textLength="80.5" lengthAdjust="spacingAndGlyphs">OCR/tissue weight</text>
<text x="231" y="664" font-size="10" text-anchor="middle" transform="rotate(-90 231 664)" textLength="65" lengthAdjust="spacingAndGlyphs">(pmol s<tspan font-size="5.5" dy="-3.2">−1</tspan><tspan dy="3.2"> mg</tspan><tspan font-size="5.5" dy="-3.2">−1</tspan><tspan dy="3.2">)</tspan></text>
<rect x="270.5" y="633.8387" width="12" height="75.7613" fill="#7f7f7f" stroke="#000" stroke-width="1"/>
<line x1="276.5" y1="709.6" x2="276.5" y2="713.4" stroke="#000" stroke-width="1"/>
<rect x="290.6" y="657.4466" width="12" height="52.15340000000003" fill="#caca00" stroke="#000" stroke-width="1"/>
<line x1="296.6" y1="709.6" x2="296.6" y2="713.4" stroke="#000" stroke-width="1"/>
<rect x="310.7" y="642.9424" width="12" height="66.6576" fill="#a87cb8" stroke="#000" stroke-width="1"/>
<line x1="316.7" y1="709.6" x2="316.7" y2="713.4" stroke="#000" stroke-width="1"/>
<line x1="276.5" y1="628.7" x2="276.5" y2="638.8" stroke="#000" stroke-width="1"/>
<line x1="273.25" y1="628.7" x2="279.75" y2="628.7" stroke="#000" stroke-width="1"/>
<line x1="273.25" y1="638.8" x2="279.75" y2="638.8" stroke="#000" stroke-width="1"/>
<line x1="296.6" y1="653.2" x2="296.6" y2="661.3" stroke="#000" stroke-width="1"/>
<line x1="293.35" y1="653.2" x2="299.85" y2="653.2" stroke="#000" stroke-width="1"/>
<line x1="293.35" y1="661.3" x2="299.85" y2="661.3" stroke="#000" stroke-width="1"/>
<line x1="316.7" y1="635.4" x2="316.7" y2="650.5" stroke="#000" stroke-width="1"/>
<line x1="313.45" y1="635.4" x2="319.95" y2="635.4" stroke="#000" stroke-width="1"/>
<line x1="313.45" y1="650.5" x2="319.95" y2="650.5" stroke="#000" stroke-width="1"/>
<circle cx="276.5" cy="621.0" r="1.9" fill="#fff" stroke="#222" stroke-width="0.8"/>
<circle cx="273.8" cy="632.0" r="1.9" fill="#fff" stroke="#222" stroke-width="0.8"/>
<circle cx="272.1" cy="642.8" r="1.9" fill="#fff" stroke="#222" stroke-width="0.8"/>
<circle cx="280.5" cy="640.4" r="1.9" fill="#fff" stroke="#222" stroke-width="0.8"/>
<circle cx="296.6" cy="641.4" r="1.9" fill="#fff" stroke="#222" stroke-width="0.8"/>
<circle cx="292.3" cy="658.9" r="1.9" fill="#fff" stroke="#222" stroke-width="0.8"/>
<circle cx="296.6" cy="659.6" r="1.9" fill="#fff" stroke="#222" stroke-width="0.8"/>
<circle cx="300.7" cy="658.9" r="1.9" fill="#fff" stroke="#222" stroke-width="0.8"/>
<circle cx="292.3" cy="662.9" r="1.9" fill="#fff" stroke="#222" stroke-width="0.8"/>
<circle cx="300.7" cy="662.3" r="1.9" fill="#fff" stroke="#222" stroke-width="0.8"/>
<circle cx="311.7" cy="632.0" r="1.9" fill="#fff" stroke="#222" stroke-width="0.8"/>
<circle cx="321.5" cy="632.0" r="1.9" fill="#fff" stroke="#222" stroke-width="0.8"/>
<circle cx="316.8" cy="642.8" r="1.9" fill="#fff" stroke="#222" stroke-width="0.8"/>
<circle cx="316.8" cy="665.0" r="1.9" fill="#fff" stroke="#222" stroke-width="0.8"/>
<line x1="276.5" y1="614.6" x2="296.6" y2="614.6" stroke="#333" stroke-width="0.9"/>
<text x="286.7" y="612.6" font-size="6.6" text-anchor="middle" textLength="20.4" lengthAdjust="spacingAndGlyphs" fill="#333">0.0156</text>
<text x="279.6" y="719.6" font-size="9.7" text-anchor="end" transform="rotate(-45 279.6 719.6)">ctr</text>
<text x="299.7" y="719.6" font-size="9.7" text-anchor="end" transform="rotate(-45 299.7 719.6)" textLength="38.5" lengthAdjust="spacingAndGlyphs">C26 TCM</text>
<text x="319.8" y="719.6" font-size="9.7" text-anchor="end" transform="rotate(-45 319.8 719.6)" textLength="61" lengthAdjust="spacingAndGlyphs">C26 TCM + Rol</text>
<text x="365.2" y="598.6" font-size="13.6" font-weight="bold" fill="#000" stroke="#000" stroke-width="0.3" stroke-linejoin="round">j</text>
<text x="381.40000000000003" y="608.2" font-size="9.5">ctr</text>
<text x="481.90000000000003" y="608.2" font-size="9.5">C26 veh</text>
<text x="582.1999999999999" y="608.2" font-size="9.5">C26 Rol</text>
<text x="377" y="710.4" font-size="8.4" transform="rotate(-90 377 710.4)" textLength="16" lengthAdjust="spacingAndGlyphs" fill="#2f9e2f">BTX</text>
<g clip-path="url(#jc0)">
<rect x="380.6" y="611.6" width="98.6" height="98.8" fill="url(#jg1)"/>
<rect x="395" y="606.6" width="10" height="108.8" fill="#123a14" opacity="0.25" filter="url(#gb2)" transform="rotate(6 395 661.6)"/>
<rect x="412" y="606.6" width="14" height="108.8" fill="#123a14" opacity="0.18" filter="url(#gb2)" transform="rotate(6 412 661.6)"/>
<rect x="431" y="606.6" width="9" height="108.8" fill="#123a14" opacity="0.22" filter="url(#gb2)" transform="rotate(6 431 661.6)"/>
<rect x="447" y="606.6" width="12" height="108.8" fill="#123a14" opacity="0.15" filter="url(#gb2)" transform="rotate(6 447 661.6)"/>
<rect x="462" y="606.6" width="8" height="108.8" fill="#123a14" opacity="0.2" filter="url(#gb2)" transform="rotate(6 462 661.6)"/>
<g filter="url(#gb)" transform="rotate(25 388.7 618.2)"><ellipse cx="388.7" cy="618.2" rx="0.9" ry="2.5" fill="#30d828"/></g>
<g filter="url(#gb)" transform="rotate(0 398.7 618.6)"><ellipse cx="398.7" cy="618.6" rx="2.4" ry="3.7" fill="#105a0c" opacity="0.7"/><ellipse cx="397.8" cy="618.7" rx="1.6" ry="3.4" fill="none" stroke="#30d828" stroke-width="0.95" transform="rotate(-2 397.8 618.6)"/><ellipse cx="399.6" cy="618.6" rx="1.6" ry="3.4" fill="none" stroke="#30d828" stroke-width="0.95" transform="rotate(21 399.6 618.6)"/></g>
<g filter="url(#gb)" transform="rotate(0 399.9 637.2)"><ellipse cx="399.9" cy="637.2" rx="3.7" ry="3.5" fill="#105a0c" opacity="0.7"/><ellipse cx="398.5" cy="637.3" rx="2.4" ry="3.2" fill="none" stroke="#30d828" stroke-width="0.95" transform="rotate(0 398.5 637.2)"/><ellipse cx="401.3" cy="637.2" rx="2.4" ry="3.2" fill="none" stroke="#30d828" stroke-width="0.95" transform="rotate(-16 401.3 637.2)"/></g>
<g filter="url(#gb)" transform="rotate(0 463.9 645.8)"><ellipse cx="463.9" cy="645.8" rx="2.8" ry="1.5" fill="#105a0c" opacity="0.7"/><ellipse cx="462.8" cy="646.1" rx="1.8" ry="1.4" fill="none" stroke="#30d828" stroke-width="0.95" transform="rotate(6 462.8 645.8)"/><ellipse cx="465.0" cy="645.6" rx="1.8" ry="1.4" fill="none" stroke="#30d828" stroke-width="0.95" transform="rotate(-20 465.0 645.8)"/></g>
<g filter="url(#gb)" transform="rotate(-35 424.6 664.7)"><ellipse cx="424.6" cy="664.7" rx="1.0" ry="3.0" fill="#30d828"/></g>
<g filter="url(#gb)" transform="rotate(-5 437.1 663.6)"><ellipse cx="437.1" cy="663.6" rx="0.9" ry="2.5" fill="#30d828"/></g>
<g filter="url(#gb)" transform="rotate(0 468.8 668.6)"><ellipse cx="468.8" cy="668.6" rx="4.9" ry="2.4" fill="#105a0c" opacity="0.7"/><ellipse cx="466.1" cy="668.9" rx="2.1" ry="2.2" fill="none" stroke="#30d828" stroke-width="0.95" transform="rotate(-20 466.1 668.6)"/><ellipse cx="468.8" cy="668.1" rx="2.1" ry="2.2" fill="none" stroke="#30d828" stroke-width="0.95" transform="rotate(10 468.8 668.6)"/><ellipse cx="471.5" cy="669.1" rx="2.1" ry="2.2" fill="none" stroke="#30d828" stroke-width="0.95" transform="rotate(24 471.5 668.6)"/></g>
<g filter="url(#gb)" transform="rotate(0 420.4 678.8)"><ellipse cx="420.4" cy="678.8" rx="2.3" ry="2.3" fill="#105a0c" opacity="0.7"/><ellipse cx="419.5" cy="678.9" rx="1.5" ry="2.1" fill="none" stroke="#30d828" stroke-width="0.95" transform="rotate(8 419.5 678.8)"/><ellipse cx="421.3" cy="678.3" rx="1.5" ry="2.1" fill="none" stroke="#30d828" stroke-width="0.95" transform="rotate(-17 421.3 678.8)"/></g>
<g filter="url(#gb)" transform="rotate(-8 433.1 676.6)"><ellipse cx="433.1" cy="676.6" rx="5.1" ry="3.1" fill="#105a0c" opacity="0.7"/><ellipse cx="430.3" cy="676.2" rx="2.2" ry="2.8" fill="none" stroke="#30d828" stroke-width="0.95" transform="rotate(1 430.3 676.6)"/><ellipse cx="433.1" cy="676.3" rx="2.2" ry="2.8" fill="none" stroke="#30d828" stroke-width="0.95" transform="rotate(-15 433.1 676.6)"/><ellipse cx="435.9" cy="676.6" rx="2.2" ry="2.8" fill="none" stroke="#30d828" stroke-width="0.95" transform="rotate(-23 435.9 676.6)"/></g>
<g filter="url(#gb)" transform="rotate(20 451.3 676.6)"><ellipse cx="451.3" cy="676.6" rx="3.7" ry="3.5" fill="#105a0c" opacity="0.7"/><ellipse cx="449.9" cy="676.9" rx="2.4" ry="3.2" fill="none" stroke="#30d828" stroke-width="0.95" transform="rotate(-3 449.9 676.6)"/><ellipse cx="452.7" cy="676.7" rx="2.4" ry="3.2" fill="none" stroke="#30d828" stroke-width="0.95" transform="rotate(1 452.7 676.6)"/></g>
<g filter="url(#gb)" transform="rotate(20 475.1 704.4)"><ellipse cx="475.1" cy="704.4" rx="2.0" ry="1.6" fill="#30d828"/></g>
</g>
<g clip-path="url(#jc1)">
<rect x="481.1" y="611.6" width="98.6" height="98.8" fill="#030a03"/>
<g filter="url(#gb)" transform="rotate(-38 508.7 629.1)"><ellipse cx="508.7" cy="629.1" rx="4.8" ry="1.3" fill="#30d828"/></g>
<g filter="url(#gb)" transform="rotate(0 542.4 629.7)" opacity="0.55"><ellipse cx="542.4" cy="629.7" rx="2.3" ry="2.3" fill="#0c3a0a" stroke="#1f9a1a" stroke-width="1"/></g>
<g filter="url(#gb)" transform="rotate(-20 528.6 642.0)"><ellipse cx="528.6" cy="642.0" rx="2.6" ry="2.0" fill="#105a0c" opacity="0.7"/><ellipse cx="527.6" cy="642.2" rx="1.7" ry="1.9" fill="none" stroke="#30d828" stroke-width="0.95" transform="rotate(-0 527.6 642.0)"/><ellipse cx="529.6" cy="641.8" rx="1.7" ry="1.9" fill="none" stroke="#30d828" stroke-width="0.95" transform="rotate(-2 529.6 642.0)"/></g>
<g filter="url(#gb)" transform="rotate(0 534.8 642.0)" opacity="0.55"><ellipse cx="534.8" cy="642.0" rx="2.3" ry="2.3" fill="#0c3a0a" stroke="#1f9a1a" stroke-width="1"/></g>
<g filter="url(#gb)" transform="rotate(-15 558.4 648.4)"><ellipse cx="558.4" cy="648.4" rx="4.4" ry="2.3" fill="#105a0c" opacity="0.7"/><ellipse cx="555.9" cy="648.9" rx="1.9" ry="2.1" fill="none" stroke="#30d828" stroke-width="0.95" transform="rotate(25 555.9 648.4)"/><ellipse cx="558.4" cy="648.6" rx="1.9" ry="2.1" fill="none" stroke="#30d828" stroke-width="0.95" transform="rotate(17 558.4 648.4)"/><ellipse cx="560.9" cy="648.1" rx="1.9" ry="2.1" fill="none" stroke="#30d828" stroke-width="0.95" transform="rotate(-9 560.9 648.4)"/></g>
<g filter="url(#gb)" transform="rotate(0 540.9 653.6)" opacity="0.55"><ellipse cx="540.9" cy="653.6" rx="1.9" ry="2.3" fill="#0c3a0a" stroke="#1f9a1a" stroke-width="1"/></g>
<g filter="url(#gb)" transform="rotate(0 527.7 668.1)"><ellipse cx="527.7" cy="668.1" rx="3.2" ry="3.5" fill="#105a0c" opacity="0.7"/><ellipse cx="526.5" cy="667.7" rx="2.0" ry="3.2" fill="none" stroke="#30d828" stroke-width="0.95" transform="rotate(-11 526.5 668.1)"/><ellipse cx="528.9" cy="668.0" rx="2.0" ry="3.2" fill="none" stroke="#30d828" stroke-width="0.95" transform="rotate(13 528.9 668.1)"/></g>
<g filter="url(#gb)" transform="rotate(0 540.0 671.1)"><ellipse cx="540.0" cy="671.1" rx="1.2" ry="0.9" fill="#30d828"/></g>
<g filter="url(#gb)" transform="rotate(10 530.8 676.8)"><ellipse cx="530.8" cy="676.8" rx="4.3" ry="1.6" fill="#30d828"/></g>
<g filter="url(#gb)" transform="rotate(-42 537.8 699.6)"><ellipse cx="537.8" cy="699.6" rx="5.0" ry="1.3" fill="#30d828"/></g>
</g>
<g clip-path="url(#jc2)">
<rect x="581.4" y="611.6" width="98.4" height="98.8" fill="#030b03"/>
<g filter="url(#gb)" transform="rotate(22 597.6 640.8)"><ellipse cx="597.6" cy="640.8" rx="5.1" ry="3.0" fill="#105a0c" opacity="0.7"/><ellipse cx="594.8" cy="640.7" rx="2.2" ry="2.7" fill="none" stroke="#30d828" stroke-width="0.95" transform="rotate(17 594.8 640.8)"/><ellipse cx="597.6" cy="641.1" rx="2.2" ry="2.7" fill="none" stroke="#30d828" stroke-width="0.95" transform="rotate(23 597.6 640.8)"/><ellipse cx="600.4" cy="640.5" rx="2.2" ry="2.7" fill="none" stroke="#30d828" stroke-width="0.95" transform="rotate(-25 600.4 640.8)"/></g>
<g filter="url(#gb)" transform="rotate(0 616.6 644.5)"><ellipse cx="616.6" cy="644.5" rx="4.9" ry="3.9" fill="#105a0c" opacity="0.7"/><ellipse cx="613.9" cy="644.5" rx="2.1" ry="3.6" fill="none" stroke="#30d828" stroke-width="0.95" transform="rotate(21 613.9 644.5)"/><ellipse cx="616.6" cy="644.4" rx="2.1" ry="3.6" fill="none" stroke="#30d828" stroke-width="0.95" transform="rotate(24 616.6 644.5)"/><ellipse cx="619.3" cy="644.6" rx="2.1" ry="3.6" fill="none" stroke="#30d828" stroke-width="0.95" transform="rotate(-21 619.3 644.5)"/></g>
<g filter="url(#gb)" transform="rotate(32 641.5 639.9)"><ellipse cx="641.5" cy="639.9" rx="4.2" ry="2.0" fill="#105a0c" opacity="0.7"/><ellipse cx="639.2" cy="639.7" rx="1.8" ry="1.9" fill="none" stroke="#30d828" stroke-width="0.95" transform="rotate(14 639.2 639.9)"/><ellipse cx="641.5" cy="639.7" rx="1.8" ry="1.9" fill="none" stroke="#30d828" stroke-width="0.95" transform="rotate(-21 641.5 639.9)"/><ellipse cx="643.8" cy="640.2" rx="1.8" ry="1.9" fill="none" stroke="#30d828" stroke-width="0.95" transform="rotate(23 643.8 639.9)"/></g>
<g filter="url(#gb)" transform="rotate(-15 634.4 651.5)"><ellipse cx="634.4" cy="651.5" rx="4.4" ry="3.5" fill="#105a0c" opacity="0.7"/><ellipse cx="632.0" cy="651.2" rx="1.9" ry="3.2" fill="none" stroke="#30d828" stroke-width="0.95" transform="rotate(-19 632.0 651.5)"/><ellipse cx="634.4" cy="651.1" rx="1.9" ry="3.2" fill="none" stroke="#30d828" stroke-width="0.95" transform="rotate(-20 634.4 651.5)"/><ellipse cx="636.8" cy="651.2" rx="1.9" ry="3.2" fill="none" stroke="#30d828" stroke-width="0.95" transform="rotate(15 636.8 651.5)"/></g>
<g filter="url(#gb)" transform="rotate(0 645.1 648.1)" opacity="0.55"><ellipse cx="645.1" cy="648.1" rx="1.9" ry="1.9" fill="#0c3a0a" stroke="#1f9a1a" stroke-width="1"/></g>
<g filter="url(#gb)" transform="rotate(50 598.2 663.8)"><ellipse cx="598.2" cy="663.8" rx="4.7" ry="1.7" fill="#105a0c" opacity="0.7"/><ellipse cx="595.6" cy="663.7" rx="2.0" ry="1.5" fill="none" stroke="#30d828" stroke-width="0.95" transform="rotate(3 595.6 663.8)"/><ellipse cx="598.2" cy="664.0" rx="2.0" ry="1.5" fill="none" stroke="#30d828" stroke-width="0.95" transform="rotate(-15 598.2 663.8)"/><ellipse cx="600.8" cy="663.9" rx="2.0" ry="1.5" fill="none" stroke="#30d828" stroke-width="0.95" transform="rotate(-18 600.8 663.8)"/></g>
<g filter="url(#gb)" transform="rotate(0 675.2 677.6)"><ellipse cx="675.2" cy="677.6" rx="2.2" ry="2.8" fill="#105a0c" opacity="0.7"/><ellipse cx="674.3" cy="677.5" rx="1.4" ry="2.5" fill="none" stroke="#30d828" stroke-width="0.95" transform="rotate(-19 674.3 677.6)"/><ellipse cx="676.1" cy="677.4" rx="1.4" ry="2.5" fill="none" stroke="#30d828" stroke-width="0.95" transform="rotate(-14 676.1 677.6)"/></g>
<g filter="url(#gb)" transform="rotate(0 645.8 686.8)"><ellipse cx="645.8" cy="686.8" rx="3.9" ry="4.2" fill="#105a0c" opacity="0.7"/><ellipse cx="644.3" cy="687.1" rx="2.5" ry="3.8" fill="none" stroke="#30d828" stroke-width="0.95" transform="rotate(24 644.3 686.8)"/><ellipse cx="647.3" cy="687.2" rx="2.5" ry="3.8" fill="none" stroke="#30d828" stroke-width="0.95" transform="rotate(-10 647.3 686.8)"/></g>
<g filter="url(#gb)" transform="rotate(55 677.3 696.9)"><ellipse cx="677.3" cy="696.9" rx="2.0" ry="0.6" fill="#30d828"/></g>
</g>
<rect x="386.4" y="705.6" width="25.5" height="3.2" fill="#fff"/>
<text x="385.9" y="701.4" font-size="8.6" textLength="27.2" lengthAdjust="spacingAndGlyphs" fill="#fff">100 µm</text>
<rect x="486.3" y="705.6" width="25.5" height="3.2" fill="#fff"/>
<text x="485.8" y="701.4" font-size="8.6" textLength="27.2" lengthAdjust="spacingAndGlyphs" fill="#fff">100 µm</text>
<rect x="586.9" y="705.6" width="25.5" height="3.2" fill="#fff"/>
<text x="586.4" y="701.4" font-size="8.6" textLength="27.2" lengthAdjust="spacingAndGlyphs" fill="#fff">100 µm</text>
<text x="169.2" y="784.5" font-size="13.6" font-weight="bold" fill="#000" stroke="#000" stroke-width="0.7" stroke-linejoin="round">k</text>
<line x1="221.6" y1="795" x2="221.6" y2="887.8" stroke="#000" stroke-width="1"/>
<line x1="216.6" y1="887.3" x2="287.3" y2="887.3" stroke="#000" stroke-width="1"/>
<line x1="216.6" y1="887.3" x2="221.6" y2="887.3" stroke="#000" stroke-width="1"/>
<text x="212.4" y="890.4" font-size="8.6" text-anchor="end">0</text>
<line x1="216.6" y1="864.3499999999999" x2="221.6" y2="864.3499999999999" stroke="#000" stroke-width="1"/>
<text x="212.4" y="867.4499999999999" font-size="8.6" text-anchor="end" textLength="28" lengthAdjust="spacingAndGlyphs">10,000</text>
<line x1="216.6" y1="841.4" x2="221.6" y2="841.4" stroke="#000" stroke-width="1"/>
<text x="212.4" y="844.5" font-size="8.6" text-anchor="end" textLength="28" lengthAdjust="spacingAndGlyphs">20,000</text>
<line x1="216.6" y1="818.4499999999999" x2="221.6" y2="818.4499999999999" stroke="#000" stroke-width="1"/>
<text x="212.4" y="821.55" font-size="8.6" text-anchor="end" textLength="28" lengthAdjust="spacingAndGlyphs">30,000</text>
<line x1="216.6" y1="795.5" x2="221.6" y2="795.5" stroke="#000" stroke-width="1"/>
<text x="212.4" y="798.6" font-size="8.6" text-anchor="end" textLength="28" lengthAdjust="spacingAndGlyphs">40,000</text>
<text x="176.8" y="841.5" font-size="10" text-anchor="middle" transform="rotate(-90 176.8 841.5)" textLength="24.5" lengthAdjust="spacingAndGlyphs">Voxel</text>
<rect x="228.2" y="849.3499999999999" width="12" height="37.950000000000045" fill="#7f7f7f" stroke="#000" stroke-width="1"/>
<line x1="234.2" y1="887.3" x2="234.2" y2="891.0999999999999" stroke="#000" stroke-width="1"/>
<rect x="248.1" y="863.15" width="12" height="24.149999999999977" fill="#caca00" stroke="#000" stroke-width="1"/>
<line x1="254.1" y1="887.3" x2="254.1" y2="891.0999999999999" stroke="#000" stroke-width="1"/>
<rect x="268" y="855.3299999999999" width="12" height="31.970000000000027" fill="#6a1f7c" stroke="#000" stroke-width="1"/>
<line x1="274" y1="887.3" x2="274" y2="891.0999999999999" stroke="#000" stroke-width="1"/>
<circle cx="235.3" cy="874.5" r="1.8" fill="#fff" stroke="#444" stroke-width="0.55"/>
<circle cx="234.3" cy="873.8" r="1.8" fill="#fff" stroke="#444" stroke-width="0.55"/>
<circle cx="235.8" cy="873.6" r="1.8" fill="#fff" stroke="#444" stroke-width="0.55"/>
<circle cx="236.3" cy="873.2" r="1.8" fill="#fff" stroke="#444" stroke-width="0.55"/>
<circle cx="234.0" cy="873.2" r="1.8" fill="#fff" stroke="#444" stroke-width="0.55"/>
<circle cx="232.0" cy="873.2" r="1.8" fill="#fff" stroke="#444" stroke-width="0.55"/>
<circle cx="234.9" cy="872.4" r="1.8" fill="#fff" stroke="#444" stroke-width="0.55"/>
<circle cx="235.2" cy="871.5" r="1.8" fill="#fff" stroke="#444" stroke-width="0.55"/>
<circle cx="234.0" cy="871.1" r="1.8" fill="#fff" stroke="#444" stroke-width="0.55"/>
<circle cx="237.7" cy="870.7" r="1.8" fill="#fff" stroke="#444" stroke-width="0.55"/>
<circle cx="230.6" cy="869.2" r="1.8" fill="#fff" stroke="#444" stroke-width="0.55"/>
<circle cx="232.3" cy="868.8" r="1.8" fill="#fff" stroke="#444" stroke-width="0.55"/>
<circle cx="236.0" cy="867.5" r="1.8" fill="#fff" stroke="#444" stroke-width="0.55"/>
<circle cx="230.7" cy="865.9" r="1.8" fill="#fff" stroke="#444" stroke-width="0.55"/>
<circle cx="234.0" cy="864.8" r="1.8" fill="#fff" stroke="#444" stroke-width="0.55"/>
<circle cx="237.6" cy="863.7" r="1.8" fill="#fff" stroke="#444" stroke-width="0.55"/>
<circle cx="230.8" cy="863.6" r="1.8" fill="#fff" stroke="#444" stroke-width="0.55"/>
<circle cx="238.4" cy="863.5" r="1.8" fill="#fff" stroke="#444" stroke-width="0.55"/>
<circle cx="237.7" cy="862.8" r="1.8" fill="#fff" stroke="#444" stroke-width="0.55"/>
<circle cx="235.0" cy="862.7" r="1.8" fill="#fff" stroke="#444" stroke-width="0.55"/>
<circle cx="236.0" cy="862.5" r="1.8" fill="#fff" stroke="#444" stroke-width="0.55"/>
<circle cx="236.0" cy="862.2" r="1.8" fill="#fff" stroke="#444" stroke-width="0.55"/>
<circle cx="231.0" cy="862.0" r="1.8" fill="#fff" stroke="#444" stroke-width="0.55"/>
<circle cx="237.4" cy="861.1" r="1.8" fill="#fff" stroke="#444" stroke-width="0.55"/>
<circle cx="238.2" cy="860.6" r="1.8" fill="#fff" stroke="#444" stroke-width="0.55"/>
<circle cx="237.3" cy="860.5" r="1.8" fill="#fff" stroke="#444" stroke-width="0.55"/>
<circle cx="238.4" cy="860.1" r="1.8" fill="#fff" stroke="#444" stroke-width="0.55"/>
<circle cx="231.1" cy="860.1" r="1.8" fill="#fff" stroke="#444" stroke-width="0.55"/>
<circle cx="230.0" cy="858.7" r="1.8" fill="#fff" stroke="#444" stroke-width="0.55"/>
<circle cx="236.3" cy="858.0" r="1.8" fill="#fff" stroke="#444" stroke-width="0.55"/>
<circle cx="238.6" cy="857.9" r="1.8" fill="#fff" stroke="#444" stroke-width="0.55"/>
<circle cx="238.9" cy="857.9" r="1.8" fill="#fff" stroke="#444" stroke-width="0.55"/>
<circle cx="236.6" cy="856.5" r="1.8" fill="#fff" stroke="#444" stroke-width="0.55"/>
<circle cx="235.0" cy="855.8" r="1.8" fill="#fff" stroke="#444" stroke-width="0.55"/>
<circle cx="237.0" cy="855.6" r="1.8" fill="#fff" stroke="#444" stroke-width="0.55"/>
<circle cx="236.9" cy="854.7" r="1.8" fill="#fff" stroke="#444" stroke-width="0.55"/>
<circle cx="236.5" cy="854.3" r="1.8" fill="#fff" stroke="#444" stroke-width="0.55"/>
<circle cx="230.7" cy="854.0" r="1.8" fill="#fff" stroke="#444" stroke-width="0.55"/>
<circle cx="238.1" cy="853.7" r="1.8" fill="#fff" stroke="#444" stroke-width="0.55"/>
<circle cx="237.3" cy="852.8" r="1.8" fill="#fff" stroke="#444" stroke-width="0.55"/>
<circle cx="232.4" cy="850.2" r="1.8" fill="#fff" stroke="#444" stroke-width="0.55"/>
<circle cx="234.9" cy="850.1" r="1.8" fill="#fff" stroke="#444" stroke-width="0.55"/>
<circle cx="235.9" cy="849.8" r="1.8" fill="#fff" stroke="#444" stroke-width="0.55"/>
<circle cx="236.8" cy="849.1" r="1.8" fill="#fff" stroke="#444" stroke-width="0.55"/>
<circle cx="234.5" cy="848.7" r="1.8" fill="#fff" stroke="#444" stroke-width="0.55"/>
<circle cx="232.7" cy="847.7" r="1.8" fill="#fff" stroke="#444" stroke-width="0.55"/>
<circle cx="236.4" cy="847.1" r="1.8" fill="#fff" stroke="#444" stroke-width="0.55"/>
<circle cx="232.2" cy="846.6" r="1.8" fill="#fff" stroke="#444" stroke-width="0.55"/>
<circle cx="231.8" cy="846.1" r="1.8" fill="#fff" stroke="#444" stroke-width="0.55"/>
<circle cx="237.2" cy="845.8" r="1.8" fill="#fff" stroke="#444" stroke-width="0.55"/>
<circle cx="233.5" cy="845.4" r="1.8" fill="#fff" stroke="#444" stroke-width="0.55"/>
<circle cx="231.7" cy="842.7" r="1.8" fill="#fff" stroke="#444" stroke-width="0.55"/>
<circle cx="230.9" cy="842.6" r="1.8" fill="#fff" stroke="#444" stroke-width="0.55"/>
<circle cx="238.8" cy="841.2" r="1.8" fill="#fff" stroke="#444" stroke-width="0.55"/>
<circle cx="234.9" cy="840.6" r="1.8" fill="#fff" stroke="#444" stroke-width="0.55"/>
<circle cx="236.1" cy="840.4" r="1.8" fill="#fff" stroke="#444" stroke-width="0.55"/>
<circle cx="236.9" cy="840.3" r="1.8" fill="#fff" stroke="#444" stroke-width="0.55"/>
<circle cx="231.1" cy="840.3" r="1.8" fill="#fff" stroke="#444" stroke-width="0.55"/>
<circle cx="237.4" cy="839.7" r="1.8" fill="#fff" stroke="#444" stroke-width="0.55"/>
<circle cx="235.6" cy="839.6" r="1.8" fill="#fff" stroke="#444" stroke-width="0.55"/>
<circle cx="232.8" cy="839.4" r="1.8" fill="#fff" stroke="#444" stroke-width="0.55"/>
<circle cx="238.2" cy="839.2" r="1.8" fill="#fff" stroke="#444" stroke-width="0.55"/>
<circle cx="232.4" cy="839.1" r="1.8" fill="#fff" stroke="#444" stroke-width="0.55"/>
<circle cx="231.2" cy="837.9" r="1.8" fill="#fff" stroke="#444" stroke-width="0.55"/>
<circle cx="234.0" cy="837.9" r="1.8" fill="#fff" stroke="#444" stroke-width="0.55"/>
<circle cx="235.2" cy="837.1" r="1.8" fill="#fff" stroke="#444" stroke-width="0.55"/>
<circle cx="233.8" cy="836.8" r="1.8" fill="#fff" stroke="#444" stroke-width="0.55"/>
<circle cx="238.4" cy="836.7" r="1.8" fill="#fff" stroke="#444" stroke-width="0.55"/>
<circle cx="238.5" cy="836.5" r="1.8" fill="#fff" stroke="#444" stroke-width="0.55"/>
<circle cx="234.1" cy="836.0" r="1.8" fill="#fff" stroke="#444" stroke-width="0.55"/>
<circle cx="238.1" cy="836.0" r="1.8" fill="#fff" stroke="#444" stroke-width="0.55"/>
<circle cx="235.8" cy="834.4" r="1.8" fill="#fff" stroke="#444" stroke-width="0.55"/>
<circle cx="231.5" cy="832.2" r="1.8" fill="#fff" stroke="#444" stroke-width="0.55"/>
<circle cx="238.3" cy="832.0" r="1.8" fill="#fff" stroke="#444" stroke-width="0.55"/>
<circle cx="236.6" cy="831.5" r="1.8" fill="#fff" stroke="#444" stroke-width="0.55"/>
<circle cx="238.5" cy="830.7" r="1.8" fill="#fff" stroke="#444" stroke-width="0.55"/>
<circle cx="237.3" cy="829.9" r="1.8" fill="#fff" stroke="#444" stroke-width="0.55"/>
<circle cx="230.1" cy="829.6" r="1.8" fill="#fff" stroke="#444" stroke-width="0.55"/>
<circle cx="237.2" cy="829.0" r="1.8" fill="#fff" stroke="#444" stroke-width="0.55"/>
<circle cx="230.5" cy="828.8" r="1.8" fill="#fff" stroke="#444" stroke-width="0.55"/>
<circle cx="235.9" cy="826.8" r="1.8" fill="#fff" stroke="#444" stroke-width="0.55"/>
<circle cx="233.8" cy="826.7" r="1.8" fill="#fff" stroke="#444" stroke-width="0.55"/>
<circle cx="233.2" cy="825.9" r="1.8" fill="#fff" stroke="#444" stroke-width="0.55"/>
<circle cx="232.8" cy="825.8" r="1.8" fill="#fff" stroke="#444" stroke-width="0.55"/>
<circle cx="232.2" cy="825.2" r="1.8" fill="#fff" stroke="#444" stroke-width="0.55"/>
<circle cx="236.2" cy="824.0" r="1.8" fill="#fff" stroke="#444" stroke-width="0.55"/>
<circle cx="235.9" cy="823.0" r="1.8" fill="#fff" stroke="#444" stroke-width="0.55"/>
<circle cx="234.2" cy="822.8" r="1.8" fill="#fff" stroke="#444" stroke-width="0.55"/>
<circle cx="234.1" cy="822.6" r="1.8" fill="#fff" stroke="#444" stroke-width="0.55"/>
<circle cx="235.1" cy="822.0" r="1.8" fill="#fff" stroke="#444" stroke-width="0.55"/>
<circle cx="233.4" cy="821.7" r="1.8" fill="#fff" stroke="#444" stroke-width="0.55"/>
<circle cx="234.3" cy="821.6" r="1.8" fill="#fff" stroke="#444" stroke-width="0.55"/>
<circle cx="232.9" cy="821.5" r="1.8" fill="#fff" stroke="#444" stroke-width="0.55"/>
<circle cx="234.7" cy="821.2" r="1.8" fill="#fff" stroke="#444" stroke-width="0.55"/>
<circle cx="235.1" cy="821.1" r="1.8" fill="#fff" stroke="#444" stroke-width="0.55"/>
<circle cx="234.4" cy="809.8" r="1.8" fill="#fff" stroke="#444" stroke-width="0.55"/>
<circle cx="234.1" cy="812.4" r="1.8" fill="#fff" stroke="#444" stroke-width="0.55"/>
<circle cx="234.4" cy="815.0" r="1.8" fill="#fff" stroke="#444" stroke-width="0.55"/>
<circle cx="234.6" cy="817.2" r="1.8" fill="#fff" stroke="#444" stroke-width="0.55"/>
<circle cx="234.4" cy="819.5" r="1.8" fill="#fff" stroke="#444" stroke-width="0.55"/>
<circle cx="254.5" cy="881.1" r="1.8" fill="#fff" stroke="#444" stroke-width="0.55"/>
<circle cx="255.4" cy="880.7" r="1.8" fill="#fff" stroke="#444" stroke-width="0.55"/>
<circle cx="255.4" cy="879.7" r="1.8" fill="#fff" stroke="#444" stroke-width="0.55"/>
<circle cx="256.0" cy="879.0" r="1.8" fill="#fff" stroke="#444" stroke-width="0.55"/>
<circle cx="254.6" cy="878.8" r="1.8" fill="#fff" stroke="#444" stroke-width="0.55"/>
<circle cx="253.5" cy="878.7" r="1.8" fill="#fff" stroke="#444" stroke-width="0.55"/>
<circle cx="251.5" cy="878.4" r="1.8" fill="#fff" stroke="#444" stroke-width="0.55"/>
<circle cx="253.4" cy="877.9" r="1.8" fill="#fff" stroke="#444" stroke-width="0.55"/>
<circle cx="255.4" cy="875.5" r="1.8" fill="#fff" stroke="#444" stroke-width="0.55"/>
<circle cx="253.2" cy="875.3" r="1.8" fill="#fff" stroke="#444" stroke-width="0.55"/>
<circle cx="251.1" cy="875.3" r="1.8" fill="#fff" stroke="#444" stroke-width="0.55"/>
<circle cx="250.7" cy="875.1" r="1.8" fill="#fff" stroke="#444" stroke-width="0.55"/>
<circle cx="256.2" cy="874.8" r="1.8" fill="#fff" stroke="#444" stroke-width="0.55"/>
<circle cx="257.4" cy="873.2" r="1.8" fill="#fff" stroke="#444" stroke-width="0.55"/>
<circle cx="253.5" cy="873.1" r="1.8" fill="#fff" stroke="#444" stroke-width="0.55"/>
<circle cx="258.5" cy="870.7" r="1.8" fill="#fff" stroke="#444" stroke-width="0.55"/>
<circle cx="249.7" cy="870.6" r="1.8" fill="#fff" stroke="#444" stroke-width="0.55"/>
<circle cx="255.3" cy="869.2" r="1.8" fill="#fff" stroke="#444" stroke-width="0.55"/>
<circle cx="249.6" cy="868.2" r="1.8" fill="#fff" stroke="#444" stroke-width="0.55"/>
<circle cx="251.5" cy="867.6" r="1.8" fill="#fff" stroke="#444" stroke-width="0.55"/>
<circle cx="252.9" cy="867.3" r="1.8" fill="#fff" stroke="#444" stroke-width="0.55"/>
<circle cx="253.9" cy="866.9" r="1.8" fill="#fff" stroke="#444" stroke-width="0.55"/>
<circle cx="253.6" cy="866.4" r="1.8" fill="#fff" stroke="#444" stroke-width="0.55"/>
<circle cx="256.4" cy="865.7" r="1.8" fill="#fff" stroke="#444" stroke-width="0.55"/>
<circle cx="249.7" cy="865.1" r="1.8" fill="#fff" stroke="#444" stroke-width="0.55"/>
<circle cx="251.6" cy="865.1" r="1.8" fill="#fff" stroke="#444" stroke-width="0.55"/>
<circle cx="257.0" cy="864.9" r="1.8" fill="#fff" stroke="#444" stroke-width="0.55"/>
<circle cx="256.1" cy="864.5" r="1.8" fill="#fff" stroke="#444" stroke-width="0.55"/>
<circle cx="255.2" cy="864.0" r="1.8" fill="#fff" stroke="#444" stroke-width="0.55"/>
<circle cx="258.4" cy="864.0" r="1.8" fill="#fff" stroke="#444" stroke-width="0.55"/>
<circle cx="254.1" cy="863.3" r="1.8" fill="#fff" stroke="#444" stroke-width="0.55"/>
<circle cx="249.5" cy="863.2" r="1.8" fill="#fff" stroke="#444" stroke-width="0.55"/>
<circle cx="252.0" cy="862.6" r="1.8" fill="#fff" stroke="#444" stroke-width="0.55"/>
<circle cx="253.8" cy="862.5" r="1.8" fill="#fff" stroke="#444" stroke-width="0.55"/>
<circle cx="253.3" cy="861.1" r="1.8" fill="#fff" stroke="#444" stroke-width="0.55"/>
<circle cx="252.1" cy="860.9" r="1.8" fill="#fff" stroke="#444" stroke-width="0.55"/>
<circle cx="250.5" cy="860.3" r="1.8" fill="#fff" stroke="#444" stroke-width="0.55"/>
<circle cx="255.5" cy="860.2" r="1.8" fill="#fff" stroke="#444" stroke-width="0.55"/>
<circle cx="252.1" cy="858.4" r="1.8" fill="#fff" stroke="#444" stroke-width="0.55"/>
<circle cx="251.5" cy="858.3" r="1.8" fill="#fff" stroke="#444" stroke-width="0.55"/>
<circle cx="257.0" cy="857.8" r="1.8" fill="#fff" stroke="#444" stroke-width="0.55"/>
<circle cx="250.5" cy="857.4" r="1.8" fill="#fff" stroke="#444" stroke-width="0.55"/>
<circle cx="252.0" cy="857.2" r="1.8" fill="#fff" stroke="#444" stroke-width="0.55"/>
<circle cx="257.4" cy="856.7" r="1.8" fill="#fff" stroke="#444" stroke-width="0.55"/>
<circle cx="255.2" cy="856.2" r="1.8" fill="#fff" stroke="#444" stroke-width="0.55"/>
<circle cx="258.4" cy="856.1" r="1.8" fill="#fff" stroke="#444" stroke-width="0.55"/>
<circle cx="256.4" cy="855.3" r="1.8" fill="#fff" stroke="#444" stroke-width="0.55"/>
<circle cx="257.8" cy="854.9" r="1.8" fill="#fff" stroke="#444" stroke-width="0.55"/>
<circle cx="254.9" cy="854.4" r="1.8" fill="#fff" stroke="#444" stroke-width="0.55"/>
<circle cx="252.2" cy="854.3" r="1.8" fill="#fff" stroke="#444" stroke-width="0.55"/>
<circle cx="250.8" cy="854.1" r="1.8" fill="#fff" stroke="#444" stroke-width="0.55"/>
<circle cx="258.7" cy="853.6" r="1.8" fill="#fff" stroke="#444" stroke-width="0.55"/>
<circle cx="254.4" cy="852.8" r="1.8" fill="#fff" stroke="#444" stroke-width="0.55"/>
<circle cx="255.1" cy="852.5" r="1.8" fill="#fff" stroke="#444" stroke-width="0.55"/>
<circle cx="256.7" cy="852.5" r="1.8" fill="#fff" stroke="#444" stroke-width="0.55"/>
<circle cx="258.5" cy="852.4" r="1.8" fill="#fff" stroke="#444" stroke-width="0.55"/>
<circle cx="258.6" cy="851.0" r="1.8" fill="#fff" stroke="#444" stroke-width="0.55"/>
<circle cx="253.7" cy="850.7" r="1.8" fill="#fff" stroke="#444" stroke-width="0.55"/>
<circle cx="251.9" cy="850.4" r="1.8" fill="#fff" stroke="#444" stroke-width="0.55"/>
<circle cx="249.9" cy="849.6" r="1.8" fill="#fff" stroke="#444" stroke-width="0.55"/>
<circle cx="252.2" cy="848.3" r="1.8" fill="#fff" stroke="#444" stroke-width="0.55"/>
<circle cx="251.3" cy="847.7" r="1.8" fill="#fff" stroke="#444" stroke-width="0.55"/>
<circle cx="253.6" cy="846.8" r="1.8" fill="#fff" stroke="#444" stroke-width="0.55"/>
<circle cx="258.1" cy="846.6" r="1.8" fill="#fff" stroke="#444" stroke-width="0.55"/>
<circle cx="253.9" cy="846.1" r="1.8" fill="#fff" stroke="#444" stroke-width="0.55"/>
<circle cx="254.8" cy="846.0" r="1.8" fill="#fff" stroke="#444" stroke-width="0.55"/>
<circle cx="255.1" cy="846.0" r="1.8" fill="#fff" stroke="#444" stroke-width="0.55"/>
<circle cx="252.8" cy="845.7" r="1.8" fill="#fff" stroke="#444" stroke-width="0.55"/>
<circle cx="255.9" cy="845.0" r="1.8" fill="#fff" stroke="#444" stroke-width="0.55"/>
<circle cx="254.4" cy="844.0" r="1.8" fill="#fff" stroke="#444" stroke-width="0.55"/>
<circle cx="252.8" cy="842.9" r="1.8" fill="#fff" stroke="#444" stroke-width="0.55"/>
<circle cx="254.0" cy="841.8" r="1.8" fill="#fff" stroke="#444" stroke-width="0.55"/>
<circle cx="254.5" cy="841.5" r="1.8" fill="#fff" stroke="#444" stroke-width="0.55"/>
<circle cx="254.0" cy="841.5" r="1.8" fill="#fff" stroke="#444" stroke-width="0.55"/>
<circle cx="253.1" cy="840.0" r="1.8" fill="#fff" stroke="#444" stroke-width="0.55"/>
<circle cx="254.8" cy="838.5" r="1.8" fill="#fff" stroke="#444" stroke-width="0.55"/>
<circle cx="271.9" cy="872.6" r="1.8" fill="#fff" stroke="#444" stroke-width="0.55"/>
<circle cx="274.7" cy="872.4" r="1.8" fill="#fff" stroke="#444" stroke-width="0.55"/>
<circle cx="275.0" cy="871.7" r="1.8" fill="#fff" stroke="#444" stroke-width="0.55"/>
<circle cx="273.2" cy="871.1" r="1.8" fill="#fff" stroke="#444" stroke-width="0.55"/>
<circle cx="273.8" cy="869.2" r="1.8" fill="#fff" stroke="#444" stroke-width="0.55"/>
<circle cx="270.9" cy="868.9" r="1.8" fill="#fff" stroke="#444" stroke-width="0.55"/>
<circle cx="270.7" cy="868.8" r="1.8" fill="#fff" stroke="#444" stroke-width="0.55"/>
<circle cx="273.8" cy="868.8" r="1.8" fill="#fff" stroke="#444" stroke-width="0.55"/>
<circle cx="274.2" cy="867.8" r="1.8" fill="#fff" stroke="#444" stroke-width="0.55"/>
<circle cx="271.4" cy="867.4" r="1.8" fill="#fff" stroke="#444" stroke-width="0.55"/>
<circle cx="275.4" cy="867.0" r="1.8" fill="#fff" stroke="#444" stroke-width="0.55"/>
<circle cx="270.6" cy="866.6" r="1.8" fill="#fff" stroke="#444" stroke-width="0.55"/>
<circle cx="273.4" cy="866.0" r="1.8" fill="#fff" stroke="#444" stroke-width="0.55"/>
<circle cx="269.3" cy="864.3" r="1.8" fill="#fff" stroke="#444" stroke-width="0.55"/>
<circle cx="273.0" cy="863.5" r="1.8" fill="#fff" stroke="#444" stroke-width="0.55"/>
<circle cx="271.0" cy="863.4" r="1.8" fill="#fff" stroke="#444" stroke-width="0.55"/>
<circle cx="276.0" cy="863.2" r="1.8" fill="#fff" stroke="#444" stroke-width="0.55"/>
<circle cx="270.8" cy="863.1" r="1.8" fill="#fff" stroke="#444" stroke-width="0.55"/>
<circle cx="275.5" cy="862.5" r="1.8" fill="#fff" stroke="#444" stroke-width="0.55"/>
<circle cx="270.6" cy="862.4" r="1.8" fill="#fff" stroke="#444" stroke-width="0.55"/>
<circle cx="269.8" cy="862.0" r="1.8" fill="#fff" stroke="#444" stroke-width="0.55"/>
<circle cx="275.6" cy="861.5" r="1.8" fill="#fff" stroke="#444" stroke-width="0.55"/>
<circle cx="278.1" cy="860.9" r="1.8" fill="#fff" stroke="#444" stroke-width="0.55"/>
<circle cx="273.3" cy="859.9" r="1.8" fill="#fff" stroke="#444" stroke-width="0.55"/>
<circle cx="278.3" cy="859.9" r="1.8" fill="#fff" stroke="#444" stroke-width="0.55"/>
<circle cx="272.6" cy="859.1" r="1.8" fill="#fff" stroke="#444" stroke-width="0.55"/>
<circle cx="269.7" cy="859.0" r="1.8" fill="#fff" stroke="#444" stroke-width="0.55"/>
<circle cx="273.3" cy="858.8" r="1.8" fill="#fff" stroke="#444" stroke-width="0.55"/>
<circle cx="272.6" cy="858.6" r="1.8" fill="#fff" stroke="#444" stroke-width="0.55"/>
<circle cx="273.9" cy="858.1" r="1.8" fill="#fff" stroke="#444" stroke-width="0.55"/>
<circle cx="271.5" cy="857.9" r="1.8" fill="#fff" stroke="#444" stroke-width="0.55"/>
<circle cx="274.7" cy="857.8" r="1.8" fill="#fff" stroke="#444" stroke-width="0.55"/>
<circle cx="276.3" cy="857.1" r="1.8" fill="#fff" stroke="#444" stroke-width="0.55"/>
<circle cx="275.1" cy="856.4" r="1.8" fill="#fff" stroke="#444" stroke-width="0.55"/>
<circle cx="278.6" cy="856.1" r="1.8" fill="#fff" stroke="#444" stroke-width="0.55"/>
<circle cx="272.6" cy="855.0" r="1.8" fill="#fff" stroke="#444" stroke-width="0.55"/>
<circle cx="270.6" cy="854.9" r="1.8" fill="#fff" stroke="#444" stroke-width="0.55"/>
<circle cx="277.9" cy="854.5" r="1.8" fill="#fff" stroke="#444" stroke-width="0.55"/>
<circle cx="278.2" cy="853.2" r="1.8" fill="#fff" stroke="#444" stroke-width="0.55"/>
<circle cx="277.7" cy="853.1" r="1.8" fill="#fff" stroke="#444" stroke-width="0.55"/>
<circle cx="272.0" cy="853.0" r="1.8" fill="#fff" stroke="#444" stroke-width="0.55"/>
<circle cx="270.2" cy="852.9" r="1.8" fill="#fff" stroke="#444" stroke-width="0.55"/>
<circle cx="272.3" cy="851.6" r="1.8" fill="#fff" stroke="#444" stroke-width="0.55"/>
<circle cx="270.8" cy="850.9" r="1.8" fill="#fff" stroke="#444" stroke-width="0.55"/>
<circle cx="269.7" cy="850.8" r="1.8" fill="#fff" stroke="#444" stroke-width="0.55"/>
<circle cx="278.5" cy="850.4" r="1.8" fill="#fff" stroke="#444" stroke-width="0.55"/>
<circle cx="270.6" cy="849.9" r="1.8" fill="#fff" stroke="#444" stroke-width="0.55"/>
<circle cx="272.9" cy="849.4" r="1.8" fill="#fff" stroke="#444" stroke-width="0.55"/>
<circle cx="278.1" cy="849.2" r="1.8" fill="#fff" stroke="#444" stroke-width="0.55"/>
<circle cx="272.2" cy="849.0" r="1.8" fill="#fff" stroke="#444" stroke-width="0.55"/>
<circle cx="276.8" cy="847.4" r="1.8" fill="#fff" stroke="#444" stroke-width="0.55"/>
<circle cx="277.9" cy="846.3" r="1.8" fill="#fff" stroke="#444" stroke-width="0.55"/>
<circle cx="275.6" cy="846.2" r="1.8" fill="#fff" stroke="#444" stroke-width="0.55"/>
<circle cx="274.5" cy="845.1" r="1.8" fill="#fff" stroke="#444" stroke-width="0.55"/>
<circle cx="276.4" cy="844.8" r="1.8" fill="#fff" stroke="#444" stroke-width="0.55"/>
<circle cx="271.9" cy="844.8" r="1.8" fill="#fff" stroke="#444" stroke-width="0.55"/>
<circle cx="273.8" cy="844.1" r="1.8" fill="#fff" stroke="#444" stroke-width="0.55"/>
<circle cx="272.4" cy="844.0" r="1.8" fill="#fff" stroke="#444" stroke-width="0.55"/>
<circle cx="272.8" cy="844.0" r="1.8" fill="#fff" stroke="#444" stroke-width="0.55"/>
<circle cx="270.0" cy="843.9" r="1.8" fill="#fff" stroke="#444" stroke-width="0.55"/>
<circle cx="270.4" cy="843.6" r="1.8" fill="#fff" stroke="#444" stroke-width="0.55"/>
<circle cx="269.7" cy="842.8" r="1.8" fill="#fff" stroke="#444" stroke-width="0.55"/>
<circle cx="269.5" cy="842.7" r="1.8" fill="#fff" stroke="#444" stroke-width="0.55"/>
<circle cx="271.7" cy="841.3" r="1.8" fill="#fff" stroke="#444" stroke-width="0.55"/>
<circle cx="272.2" cy="841.2" r="1.8" fill="#fff" stroke="#444" stroke-width="0.55"/>
<circle cx="271.2" cy="841.0" r="1.8" fill="#fff" stroke="#444" stroke-width="0.55"/>
<circle cx="275.1" cy="840.8" r="1.8" fill="#fff" stroke="#444" stroke-width="0.55"/>
<circle cx="274.9" cy="840.8" r="1.8" fill="#fff" stroke="#444" stroke-width="0.55"/>
<circle cx="275.2" cy="839.5" r="1.8" fill="#fff" stroke="#444" stroke-width="0.55"/>
<circle cx="273.2" cy="839.2" r="1.8" fill="#fff" stroke="#444" stroke-width="0.55"/>
<circle cx="271.1" cy="838.7" r="1.8" fill="#fff" stroke="#444" stroke-width="0.55"/>
<circle cx="271.4" cy="838.6" r="1.8" fill="#fff" stroke="#444" stroke-width="0.55"/>
<circle cx="271.8" cy="838.5" r="1.8" fill="#fff" stroke="#444" stroke-width="0.55"/>
<circle cx="275.0" cy="838.3" r="1.8" fill="#fff" stroke="#444" stroke-width="0.55"/>
<circle cx="271.7" cy="837.8" r="1.8" fill="#fff" stroke="#444" stroke-width="0.55"/>
<circle cx="275.3" cy="837.3" r="1.8" fill="#fff" stroke="#444" stroke-width="0.55"/>
<circle cx="274.9" cy="837.1" r="1.8" fill="#fff" stroke="#444" stroke-width="0.55"/>
<circle cx="272.4" cy="837.1" r="1.8" fill="#fff" stroke="#444" stroke-width="0.55"/>
<circle cx="275.5" cy="836.2" r="1.8" fill="#fff" stroke="#444" stroke-width="0.55"/>
<circle cx="274.8" cy="836.1" r="1.8" fill="#fff" stroke="#444" stroke-width="0.55"/>
<circle cx="274.6" cy="817.3" r="1.8" fill="#fff" stroke="#444" stroke-width="0.55"/>
<circle cx="274.0" cy="822.9" r="1.8" fill="#fff" stroke="#444" stroke-width="0.55"/>
<circle cx="274.6" cy="828.5" r="1.8" fill="#fff" stroke="#444" stroke-width="0.55"/>
<circle cx="273.4" cy="832.0" r="1.8" fill="#fff" stroke="#444" stroke-width="0.55"/>
<circle cx="273.6" cy="834.0" r="1.8" fill="#fff" stroke="#444" stroke-width="0.55"/>
<line x1="234" y1="788" x2="274" y2="788" stroke="#333" stroke-width="0.9"/>
<text x="254" y="786" font-size="6.6" text-anchor="middle" textLength="20.6" lengthAdjust="spacingAndGlyphs" fill="#333">0.0021</text>
<line x1="234" y1="796.9" x2="254" y2="796.9" stroke="#333" stroke-width="0.9"/>
<text x="243.6" y="794.9" font-size="6.6" text-anchor="middle" textLength="23.9" lengthAdjust="spacingAndGlyphs" fill="#333">&lt;0.0001</text>
<line x1="254" y1="806.6" x2="274" y2="806.6" stroke="#333" stroke-width="0.9"/>
<text x="264.1" y="804.6" font-size="6.6" text-anchor="middle" textLength="23.9" lengthAdjust="spacingAndGlyphs" fill="#333">&lt;0.0001</text>
<text x="237.6" y="897.8" font-size="9.7" text-anchor="end" transform="rotate(-45 237.6 897.8)">ctr</text>
<text x="257.5" y="897.8" font-size="9.7" text-anchor="end" transform="rotate(-45 257.5 897.8)">C26 veh</text>
<text x="277.4" y="897.8" font-size="9.7" text-anchor="end" transform="rotate(-45 277.4 897.8)">C26 Rol</text>
<path d="M359,774 h3.2 v8.2 q0,1.2 1.6,1.2 v2.4 h-1.4 q-3.4,0 -3.4,-3.4 z" fill="#000"/>
<line x1="402.2" y1="793.2" x2="402.2" y2="887.2" stroke="#000" stroke-width="1"/>
<line x1="402.2" y1="886.7" x2="536" y2="886.7" stroke="#000" stroke-width="1"/>
<line x1="402.2" y1="793.7" x2="536" y2="793.7" stroke="#666" stroke-width="1.2" stroke-dasharray="4.2 2.8"/>
<line x1="398.2" y1="793.7" x2="402.2" y2="793.7" stroke="#000" stroke-width="1"/>
<text x="396.0" y="796.7" font-size="8.3" text-anchor="end">0</text>
<line x1="398.2" y1="816.95" x2="402.2" y2="816.95" stroke="#000" stroke-width="1"/>
<text x="396.0" y="819.95" font-size="8.3" text-anchor="end">−20</text>
<line x1="398.2" y1="840.2" x2="402.2" y2="840.2" stroke="#000" stroke-width="1"/>
<text x="396.0" y="843.2" font-size="8.3" text-anchor="end">−40</text>
<line x1="398.2" y1="863.45" x2="402.2" y2="863.45" stroke="#000" stroke-width="1"/>
<text x="396.0" y="866.45" font-size="8.3" text-anchor="end">−60</text>
<line x1="398.2" y1="886.7" x2="402.2" y2="886.7" stroke="#000" stroke-width="1"/>
<text x="396.0" y="889.7" font-size="8.3" text-anchor="end">−80</text>
<line x1="428.8" y1="886.7" x2="428.8" y2="890.7" stroke="#000" stroke-width="1"/>
<text x="428.8" y="899.3" font-size="8.8" text-anchor="middle">0</text>
<line x1="469" y1="886.7" x2="469" y2="890.7" stroke="#000" stroke-width="1"/>
<text x="469" y="899.3" font-size="8.8" text-anchor="middle">6</text>
<line x1="509.2" y1="886.7" x2="509.2" y2="890.7" stroke="#000" stroke-width="1"/>
<text x="509.2" y="899.3" font-size="8.8" text-anchor="middle">13</text>
<text x="399.3" y="899.4" font-size="9.8" textLength="15.2" lengthAdjust="spacingAndGlyphs">Day</text>
<text x="366.2" y="840.5" font-size="10" text-anchor="middle" transform="rotate(-90 366.2 840.5)" textLength="46.5" lengthAdjust="spacingAndGlyphs">Peak force</text>
<text x="377.4" y="840.4" font-size="9.7" text-anchor="middle" transform="rotate(-90 377.4 840.4)" textLength="60.3" lengthAdjust="spacingAndGlyphs">(% of starting)</text>
<line x1="469" y1="801.5" x2="469" y2="820.1" stroke="#6a1f7c" stroke-width="1"/>
<line x1="466.7" y1="801.5" x2="471.3" y2="801.5" stroke="#6a1f7c" stroke-width="1"/>
<line x1="466.7" y1="820.1" x2="471.3" y2="820.1" stroke="#6a1f7c" stroke-width="1"/>
<line x1="509.2" y1="826.4" x2="509.2" y2="849.6" stroke="#6a1f7c" stroke-width="1"/>
<line x1="506.9" y1="826.4" x2="511.5" y2="826.4" stroke="#6a1f7c" stroke-width="1"/>
<line x1="506.9" y1="849.6" x2="511.5" y2="849.6" stroke="#6a1f7c" stroke-width="1"/>
<path d="M428.8,793.7 L469.0,810.6 L509.2,838.2" stroke="#6a1f7c" stroke-width="1.2" fill="none" stroke-linejoin="round"/>
<line x1="469" y1="821.2" x2="469" y2="829.1" stroke="#c9cc1c" stroke-width="1"/>
<line x1="466.7" y1="821.2" x2="471.3" y2="821.2" stroke="#c9cc1c" stroke-width="1"/>
<line x1="466.7" y1="829.1" x2="471.3" y2="829.1" stroke="#c9cc1c" stroke-width="1"/>
<line x1="509.2" y1="859.9" x2="509.2" y2="868.5" stroke="#c9cc1c" stroke-width="1"/>
<line x1="506.9" y1="859.9" x2="511.5" y2="859.9" stroke="#c9cc1c" stroke-width="1"/>
<line x1="506.9" y1="868.5" x2="511.5" y2="868.5" stroke="#c9cc1c" stroke-width="1"/>
<path d="M428.8,793.7 L469.0,825.2 L509.2,864.6" stroke="#c9cc1c" stroke-width="1.2" fill="none" stroke-linejoin="round"/>
<circle cx="428.8" cy="793.7" r="1.9" fill="#c9cc1c" stroke="#c9cc1c" stroke-width="0.4"/>
<circle cx="469.0" cy="825.2" r="1.9" fill="#c9cc1c" stroke="#c9cc1c" stroke-width="0.4"/>
<circle cx="509.2" cy="864.6" r="1.9" fill="#c9cc1c" stroke="#c9cc1c" stroke-width="0.4"/>
<circle cx="428.8" cy="793.7" r="1.9" fill="#6a1f7c" stroke="#6a1f7c" stroke-width="0.4"/>
<circle cx="469.0" cy="810.6" r="1.9" fill="#6a1f7c" stroke="#6a1f7c" stroke-width="0.4"/>
<circle cx="509.2" cy="838.2" r="1.9" fill="#6a1f7c" stroke="#6a1f7c" stroke-width="0.4"/>
<line x1="525.4" y1="803.5" x2="543.1" y2="803.5" stroke="#c9cc1c" stroke-width="1.2"/>
<circle cx="534.2" cy="803.5" r="1.9" fill="#c9cc1c" stroke="#c9cc1c" stroke-width="0.4"/>
<text x="549.1" y="806.4" font-size="8.4" textLength="29.6" lengthAdjust="spacingAndGlyphs">C26 veh</text>
<line x1="525.4" y1="812.2" x2="543.1" y2="812.2" stroke="#6a1f7c" stroke-width="1.2"/>
<circle cx="534.2" cy="812.2" r="1.9" fill="#6a1f7c" stroke="#6a1f7c" stroke-width="0.4"/>
<text x="549.1" y="814.8" font-size="8.4" textLength="29.6" lengthAdjust="spacingAndGlyphs">C26 Rol</text>
<text x="446.6" y="835.8" font-size="6.4" textLength="26.4" lengthAdjust="spacingAndGlyphs" fill="#333"># 0.0018</text>
<text x="497.8" y="824" font-size="6.4" textLength="30.4" lengthAdjust="spacingAndGlyphs" fill="#333"># &lt;0.0001</text>
<text x="496.6" y="873.7" font-size="6.4" textLength="30.8" lengthAdjust="spacingAndGlyphs" fill="#333"># &lt;0.0001</text>
<line x1="516.3" y1="838.2" x2="516.3" y2="864.6" stroke="#222" stroke-width="0.9"/>
<text x="518.7" y="853.6" font-size="6.4" textLength="27.2" lengthAdjust="spacingAndGlyphs" fill="#333">* 0.0062</text>
</svg>
</body></html>
